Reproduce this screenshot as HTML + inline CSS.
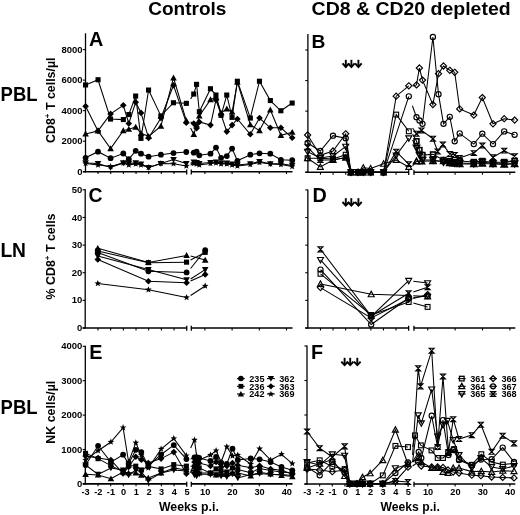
<!DOCTYPE html>
<html><head><meta charset="utf-8"><style>
html,body{margin:0;padding:0;background:#fff;}
body{width:520px;height:515px;overflow:hidden;font-family:"Liberation Sans",sans-serif;}
svg{display:block;filter:grayscale(1);}
</style></head><body>
<svg width="520" height="515" viewBox="0 0 520 515">
<rect width="520" height="515" fill="#fff"/>
<text x="148.20" y="14.90" font-family="Liberation Sans, sans-serif" font-weight="bold" font-size="19.20" textLength="78.2" lengthAdjust="spacingAndGlyphs">Controls</text>
<text x="311.60" y="14.90" font-family="Liberation Sans, sans-serif" font-weight="bold" font-size="19.20" textLength="199.0" lengthAdjust="spacingAndGlyphs">CD8 &amp; CD20 depleted</text>
<text x="0.60" y="100.80" font-family="Liberation Sans, sans-serif" font-weight="bold" font-size="20.20" textLength="37.0" lengthAdjust="spacingAndGlyphs">PBL</text>
<text x="0.40" y="256.90" font-family="Liberation Sans, sans-serif" font-weight="bold" font-size="19.70" textLength="25.6" lengthAdjust="spacingAndGlyphs">LN</text>
<text x="0.60" y="413.90" font-family="Liberation Sans, sans-serif" font-weight="bold" font-size="19.70" textLength="37.0" lengthAdjust="spacingAndGlyphs">PBL</text>
<text x="88.90" y="45.70" font-family="Liberation Sans, sans-serif" font-weight="bold" font-size="19.80">A</text>
<text x="311.60" y="47.70" font-family="Liberation Sans, sans-serif" font-weight="bold" font-size="19.20">B</text>
<text x="88.60" y="201.50" font-family="Liberation Sans, sans-serif" font-weight="bold" font-size="19.40">C</text>
<text x="312.60" y="202.20" font-family="Liberation Sans, sans-serif" font-weight="bold" font-size="19.80">D</text>
<text x="89.20" y="358.80" font-family="Liberation Sans, sans-serif" font-weight="bold" font-size="19.80">E</text>
<text x="310.90" y="359.20" font-family="Liberation Sans, sans-serif" font-weight="bold" font-size="19.80">F</text>
<text transform="translate(54.90,100.25) rotate(-90)" font-family="Liberation Sans, sans-serif" font-weight="bold" font-size="12.4" text-anchor="middle">CD8<tspan dy="-4.8" font-size="8">+</tspan><tspan dy="4.8"> T cells/µl</tspan></text>
<text transform="translate(54.90,256.50) rotate(-90)" font-family="Liberation Sans, sans-serif" font-weight="bold" font-size="12.4" text-anchor="middle">% CD8<tspan dy="-4.8" font-size="8">+</tspan><tspan dy="4.8"> T cells</tspan></text>
<text transform="translate(54.90,412.20) rotate(-90)" font-family="Liberation Sans, sans-serif" font-weight="bold" font-size="12.4" text-anchor="middle">NK cells/µl</text>
<line x1="85.50" y1="33.30" x2="85.50" y2="172.30" stroke="#000" stroke-width="1.3"/>
<line x1="82.90" y1="171.70" x2="85.50" y2="171.70" stroke="#000" stroke-width="1.1"/>
<text x="82.60" y="174.80" font-family="Liberation Sans, sans-serif" font-weight="bold" font-size="9.50" text-anchor="end">0</text>
<line x1="82.90" y1="141.17" x2="85.50" y2="141.17" stroke="#000" stroke-width="1.1"/>
<text x="82.60" y="144.27" font-family="Liberation Sans, sans-serif" font-weight="bold" font-size="9.50" text-anchor="end">2000</text>
<line x1="82.90" y1="110.65" x2="85.50" y2="110.65" stroke="#000" stroke-width="1.1"/>
<text x="82.60" y="113.75" font-family="Liberation Sans, sans-serif" font-weight="bold" font-size="9.50" text-anchor="end">4000</text>
<line x1="82.90" y1="80.12" x2="85.50" y2="80.12" stroke="#000" stroke-width="1.1"/>
<text x="82.60" y="83.22" font-family="Liberation Sans, sans-serif" font-weight="bold" font-size="9.50" text-anchor="end">6000</text>
<line x1="82.90" y1="49.60" x2="85.50" y2="49.60" stroke="#000" stroke-width="1.1"/>
<text x="82.60" y="52.70" font-family="Liberation Sans, sans-serif" font-weight="bold" font-size="9.50" text-anchor="end">8000</text>
<line x1="307.90" y1="33.90" x2="307.90" y2="172.90" stroke="#000" stroke-width="1.3"/>
<line x1="305.30" y1="172.30" x2="307.90" y2="172.30" stroke="#000" stroke-width="1.1"/>
<line x1="305.30" y1="141.73" x2="307.90" y2="141.73" stroke="#000" stroke-width="1.1"/>
<line x1="305.30" y1="111.15" x2="307.90" y2="111.15" stroke="#000" stroke-width="1.1"/>
<line x1="305.30" y1="80.58" x2="307.90" y2="80.58" stroke="#000" stroke-width="1.1"/>
<line x1="305.30" y1="50.00" x2="307.90" y2="50.00" stroke="#000" stroke-width="1.1"/>
<line x1="85.20" y1="189.30" x2="85.20" y2="328.60" stroke="#000" stroke-width="1.3"/>
<line x1="82.60" y1="328.00" x2="85.20" y2="328.00" stroke="#000" stroke-width="1.1"/>
<text x="82.30" y="331.10" font-family="Liberation Sans, sans-serif" font-weight="bold" font-size="9.50" text-anchor="end">0</text>
<line x1="82.60" y1="300.36" x2="85.20" y2="300.36" stroke="#000" stroke-width="1.1"/>
<text x="82.30" y="303.46" font-family="Liberation Sans, sans-serif" font-weight="bold" font-size="9.50" text-anchor="end">10</text>
<line x1="82.60" y1="272.72" x2="85.20" y2="272.72" stroke="#000" stroke-width="1.1"/>
<text x="82.30" y="275.82" font-family="Liberation Sans, sans-serif" font-weight="bold" font-size="9.50" text-anchor="end">20</text>
<line x1="82.60" y1="245.08" x2="85.20" y2="245.08" stroke="#000" stroke-width="1.1"/>
<text x="82.30" y="248.18" font-family="Liberation Sans, sans-serif" font-weight="bold" font-size="9.50" text-anchor="end">30</text>
<line x1="82.60" y1="217.44" x2="85.20" y2="217.44" stroke="#000" stroke-width="1.1"/>
<text x="82.30" y="220.54" font-family="Liberation Sans, sans-serif" font-weight="bold" font-size="9.50" text-anchor="end">40</text>
<line x1="82.60" y1="189.80" x2="85.20" y2="189.80" stroke="#000" stroke-width="1.1"/>
<text x="82.30" y="192.90" font-family="Liberation Sans, sans-serif" font-weight="bold" font-size="9.50" text-anchor="end">50</text>
<line x1="307.85" y1="189.40" x2="307.85" y2="328.60" stroke="#000" stroke-width="1.3"/>
<line x1="305.25" y1="328.00" x2="307.85" y2="328.00" stroke="#000" stroke-width="1.1"/>
<line x1="305.25" y1="300.38" x2="307.85" y2="300.38" stroke="#000" stroke-width="1.1"/>
<line x1="305.25" y1="272.76" x2="307.85" y2="272.76" stroke="#000" stroke-width="1.1"/>
<line x1="305.25" y1="245.14" x2="307.85" y2="245.14" stroke="#000" stroke-width="1.1"/>
<line x1="305.25" y1="217.52" x2="307.85" y2="217.52" stroke="#000" stroke-width="1.1"/>
<line x1="305.25" y1="189.90" x2="307.85" y2="189.90" stroke="#000" stroke-width="1.1"/>
<line x1="85.30" y1="345.80" x2="85.30" y2="484.50" stroke="#000" stroke-width="1.3"/>
<line x1="82.70" y1="483.90" x2="85.30" y2="483.90" stroke="#000" stroke-width="1.1"/>
<text x="82.40" y="487.00" font-family="Liberation Sans, sans-serif" font-weight="bold" font-size="9.50" text-anchor="end">0</text>
<line x1="82.70" y1="449.50" x2="85.30" y2="449.50" stroke="#000" stroke-width="1.1"/>
<text x="82.40" y="452.60" font-family="Liberation Sans, sans-serif" font-weight="bold" font-size="9.50" text-anchor="end">1000</text>
<line x1="82.70" y1="415.10" x2="85.30" y2="415.10" stroke="#000" stroke-width="1.1"/>
<text x="82.40" y="418.20" font-family="Liberation Sans, sans-serif" font-weight="bold" font-size="9.50" text-anchor="end">2000</text>
<line x1="82.70" y1="380.70" x2="85.30" y2="380.70" stroke="#000" stroke-width="1.1"/>
<text x="82.40" y="383.80" font-family="Liberation Sans, sans-serif" font-weight="bold" font-size="9.50" text-anchor="end">3000</text>
<line x1="82.70" y1="346.30" x2="85.30" y2="346.30" stroke="#000" stroke-width="1.1"/>
<text x="82.40" y="349.40" font-family="Liberation Sans, sans-serif" font-weight="bold" font-size="9.50" text-anchor="end">4000</text>
<line x1="307.00" y1="345.40" x2="307.00" y2="484.60" stroke="#000" stroke-width="1.3"/>
<line x1="304.40" y1="484.00" x2="307.00" y2="484.00" stroke="#000" stroke-width="1.1"/>
<line x1="304.40" y1="449.50" x2="307.00" y2="449.50" stroke="#000" stroke-width="1.1"/>
<line x1="304.40" y1="415.00" x2="307.00" y2="415.00" stroke="#000" stroke-width="1.1"/>
<line x1="304.40" y1="380.50" x2="307.00" y2="380.50" stroke="#000" stroke-width="1.1"/>
<line x1="304.40" y1="346.00" x2="307.00" y2="346.00" stroke="#000" stroke-width="1.1"/>
<line x1="82.90" y1="171.70" x2="186.98" y2="171.70" stroke="#000" stroke-width="1.6"/>
<line x1="191.00" y1="171.70" x2="292.50" y2="171.70" stroke="#000" stroke-width="1.6"/>
<line x1="186.68" y1="169.50" x2="186.68" y2="174.50" stroke="#000" stroke-width="1.3"/>
<line x1="191.30" y1="169.50" x2="191.30" y2="174.50" stroke="#000" stroke-width="1.3"/>
<line x1="98.06" y1="171.70" x2="98.06" y2="174.10" stroke="#000" stroke-width="1.1"/>
<line x1="110.72" y1="171.70" x2="110.72" y2="174.10" stroke="#000" stroke-width="1.1"/>
<line x1="123.38" y1="171.70" x2="123.38" y2="174.10" stroke="#000" stroke-width="1.1"/>
<line x1="136.04" y1="171.70" x2="136.04" y2="174.10" stroke="#000" stroke-width="1.1"/>
<line x1="148.70" y1="171.70" x2="148.70" y2="174.10" stroke="#000" stroke-width="1.1"/>
<line x1="161.36" y1="171.70" x2="161.36" y2="174.10" stroke="#000" stroke-width="1.1"/>
<line x1="174.02" y1="171.70" x2="174.02" y2="174.10" stroke="#000" stroke-width="1.1"/>
<line x1="204.90" y1="171.70" x2="204.90" y2="174.10" stroke="#000" stroke-width="1.1"/>
<line x1="232.10" y1="171.70" x2="232.10" y2="174.10" stroke="#000" stroke-width="1.1"/>
<line x1="259.30" y1="171.70" x2="259.30" y2="174.10" stroke="#000" stroke-width="1.1"/>
<line x1="286.50" y1="171.70" x2="286.50" y2="174.10" stroke="#000" stroke-width="1.1"/>
<line x1="305.30" y1="172.30" x2="409.00" y2="172.30" stroke="#000" stroke-width="1.6"/>
<line x1="413.70" y1="172.30" x2="515.30" y2="172.30" stroke="#000" stroke-width="1.6"/>
<line x1="408.70" y1="170.10" x2="408.70" y2="175.10" stroke="#000" stroke-width="1.3"/>
<line x1="414.00" y1="170.10" x2="414.00" y2="175.10" stroke="#000" stroke-width="1.3"/>
<line x1="320.50" y1="172.30" x2="320.50" y2="174.70" stroke="#000" stroke-width="1.1"/>
<line x1="333.10" y1="172.30" x2="333.10" y2="174.70" stroke="#000" stroke-width="1.1"/>
<line x1="345.70" y1="172.30" x2="345.70" y2="174.70" stroke="#000" stroke-width="1.1"/>
<line x1="358.30" y1="172.30" x2="358.30" y2="174.70" stroke="#000" stroke-width="1.1"/>
<line x1="370.90" y1="172.30" x2="370.90" y2="174.70" stroke="#000" stroke-width="1.1"/>
<line x1="383.50" y1="172.30" x2="383.50" y2="174.70" stroke="#000" stroke-width="1.1"/>
<line x1="396.10" y1="172.30" x2="396.10" y2="174.70" stroke="#000" stroke-width="1.1"/>
<line x1="427.70" y1="172.30" x2="427.70" y2="174.70" stroke="#000" stroke-width="1.1"/>
<line x1="455.10" y1="172.30" x2="455.10" y2="174.70" stroke="#000" stroke-width="1.1"/>
<line x1="482.50" y1="172.30" x2="482.50" y2="174.70" stroke="#000" stroke-width="1.1"/>
<line x1="509.90" y1="172.30" x2="509.90" y2="174.70" stroke="#000" stroke-width="1.1"/>
<line x1="82.60" y1="328.00" x2="187.04" y2="328.00" stroke="#000" stroke-width="1.6"/>
<line x1="191.00" y1="328.00" x2="292.50" y2="328.00" stroke="#000" stroke-width="1.6"/>
<line x1="186.74" y1="325.80" x2="186.74" y2="330.80" stroke="#000" stroke-width="1.3"/>
<line x1="191.30" y1="325.80" x2="191.30" y2="330.80" stroke="#000" stroke-width="1.3"/>
<line x1="97.98" y1="328.00" x2="97.98" y2="330.40" stroke="#000" stroke-width="1.1"/>
<line x1="110.66" y1="328.00" x2="110.66" y2="330.40" stroke="#000" stroke-width="1.1"/>
<line x1="123.34" y1="328.00" x2="123.34" y2="330.40" stroke="#000" stroke-width="1.1"/>
<line x1="136.02" y1="328.00" x2="136.02" y2="330.40" stroke="#000" stroke-width="1.1"/>
<line x1="148.70" y1="328.00" x2="148.70" y2="330.40" stroke="#000" stroke-width="1.1"/>
<line x1="161.38" y1="328.00" x2="161.38" y2="330.40" stroke="#000" stroke-width="1.1"/>
<line x1="174.06" y1="328.00" x2="174.06" y2="330.40" stroke="#000" stroke-width="1.1"/>
<line x1="204.90" y1="328.00" x2="204.90" y2="330.40" stroke="#000" stroke-width="1.1"/>
<line x1="232.10" y1="328.00" x2="232.10" y2="330.40" stroke="#000" stroke-width="1.1"/>
<line x1="259.30" y1="328.00" x2="259.30" y2="330.40" stroke="#000" stroke-width="1.1"/>
<line x1="286.50" y1="328.00" x2="286.50" y2="330.40" stroke="#000" stroke-width="1.1"/>
<line x1="305.25" y1="328.00" x2="408.95" y2="328.00" stroke="#000" stroke-width="1.6"/>
<line x1="413.70" y1="328.00" x2="515.30" y2="328.00" stroke="#000" stroke-width="1.6"/>
<line x1="408.65" y1="325.80" x2="408.65" y2="330.80" stroke="#000" stroke-width="1.3"/>
<line x1="414.00" y1="325.80" x2="414.00" y2="330.80" stroke="#000" stroke-width="1.3"/>
<line x1="320.45" y1="328.00" x2="320.45" y2="330.40" stroke="#000" stroke-width="1.1"/>
<line x1="333.05" y1="328.00" x2="333.05" y2="330.40" stroke="#000" stroke-width="1.1"/>
<line x1="345.65" y1="328.00" x2="345.65" y2="330.40" stroke="#000" stroke-width="1.1"/>
<line x1="358.25" y1="328.00" x2="358.25" y2="330.40" stroke="#000" stroke-width="1.1"/>
<line x1="370.85" y1="328.00" x2="370.85" y2="330.40" stroke="#000" stroke-width="1.1"/>
<line x1="383.45" y1="328.00" x2="383.45" y2="330.40" stroke="#000" stroke-width="1.1"/>
<line x1="396.05" y1="328.00" x2="396.05" y2="330.40" stroke="#000" stroke-width="1.1"/>
<line x1="427.70" y1="328.00" x2="427.70" y2="330.40" stroke="#000" stroke-width="1.1"/>
<line x1="455.10" y1="328.00" x2="455.10" y2="330.40" stroke="#000" stroke-width="1.1"/>
<line x1="482.50" y1="328.00" x2="482.50" y2="330.40" stroke="#000" stroke-width="1.1"/>
<line x1="509.90" y1="328.00" x2="509.90" y2="330.40" stroke="#000" stroke-width="1.1"/>
<line x1="82.70" y1="483.90" x2="187.04" y2="483.90" stroke="#000" stroke-width="1.6"/>
<line x1="191.00" y1="483.90" x2="292.50" y2="483.90" stroke="#000" stroke-width="1.6"/>
<line x1="186.74" y1="481.70" x2="186.74" y2="486.70" stroke="#000" stroke-width="1.3"/>
<line x1="191.30" y1="481.70" x2="191.30" y2="486.70" stroke="#000" stroke-width="1.3"/>
<line x1="97.98" y1="483.90" x2="97.98" y2="486.30" stroke="#000" stroke-width="1.1"/>
<line x1="110.66" y1="483.90" x2="110.66" y2="486.30" stroke="#000" stroke-width="1.1"/>
<line x1="123.34" y1="483.90" x2="123.34" y2="486.30" stroke="#000" stroke-width="1.1"/>
<line x1="136.02" y1="483.90" x2="136.02" y2="486.30" stroke="#000" stroke-width="1.1"/>
<line x1="148.70" y1="483.90" x2="148.70" y2="486.30" stroke="#000" stroke-width="1.1"/>
<line x1="161.38" y1="483.90" x2="161.38" y2="486.30" stroke="#000" stroke-width="1.1"/>
<line x1="174.06" y1="483.90" x2="174.06" y2="486.30" stroke="#000" stroke-width="1.1"/>
<line x1="204.90" y1="483.90" x2="204.90" y2="486.30" stroke="#000" stroke-width="1.1"/>
<line x1="232.10" y1="483.90" x2="232.10" y2="486.30" stroke="#000" stroke-width="1.1"/>
<line x1="259.30" y1="483.90" x2="259.30" y2="486.30" stroke="#000" stroke-width="1.1"/>
<line x1="286.50" y1="483.90" x2="286.50" y2="486.30" stroke="#000" stroke-width="1.1"/>
<text x="85.60" y="494.80" font-family="Liberation Sans, sans-serif" font-weight="bold" font-size="9.20" text-anchor="middle">-3</text>
<text x="98.28" y="494.80" font-family="Liberation Sans, sans-serif" font-weight="bold" font-size="9.20" text-anchor="middle">-2</text>
<text x="110.96" y="494.80" font-family="Liberation Sans, sans-serif" font-weight="bold" font-size="9.20" text-anchor="middle">-1</text>
<text x="123.64" y="494.80" font-family="Liberation Sans, sans-serif" font-weight="bold" font-size="9.20" text-anchor="middle">0</text>
<text x="136.32" y="494.80" font-family="Liberation Sans, sans-serif" font-weight="bold" font-size="9.20" text-anchor="middle">1</text>
<text x="149.00" y="494.80" font-family="Liberation Sans, sans-serif" font-weight="bold" font-size="9.20" text-anchor="middle">2</text>
<text x="161.68" y="494.80" font-family="Liberation Sans, sans-serif" font-weight="bold" font-size="9.20" text-anchor="middle">3</text>
<text x="174.36" y="494.80" font-family="Liberation Sans, sans-serif" font-weight="bold" font-size="9.20" text-anchor="middle">4</text>
<text x="187.04" y="494.80" font-family="Liberation Sans, sans-serif" font-weight="bold" font-size="9.20" text-anchor="middle">5</text>
<text x="205.20" y="494.80" font-family="Liberation Sans, sans-serif" font-weight="bold" font-size="9.20" text-anchor="middle">10</text>
<text x="232.40" y="494.80" font-family="Liberation Sans, sans-serif" font-weight="bold" font-size="9.20" text-anchor="middle">20</text>
<text x="259.60" y="494.80" font-family="Liberation Sans, sans-serif" font-weight="bold" font-size="9.20" text-anchor="middle">30</text>
<text x="286.80" y="494.80" font-family="Liberation Sans, sans-serif" font-weight="bold" font-size="9.20" text-anchor="middle">40</text>
<line x1="304.40" y1="484.00" x2="408.42" y2="484.00" stroke="#000" stroke-width="1.6"/>
<line x1="413.70" y1="484.00" x2="515.30" y2="484.00" stroke="#000" stroke-width="1.6"/>
<line x1="408.12" y1="481.80" x2="408.12" y2="486.80" stroke="#000" stroke-width="1.3"/>
<line x1="414.00" y1="481.80" x2="414.00" y2="486.80" stroke="#000" stroke-width="1.3"/>
<line x1="319.64" y1="484.00" x2="319.64" y2="486.40" stroke="#000" stroke-width="1.1"/>
<line x1="332.28" y1="484.00" x2="332.28" y2="486.40" stroke="#000" stroke-width="1.1"/>
<line x1="344.92" y1="484.00" x2="344.92" y2="486.40" stroke="#000" stroke-width="1.1"/>
<line x1="357.56" y1="484.00" x2="357.56" y2="486.40" stroke="#000" stroke-width="1.1"/>
<line x1="370.20" y1="484.00" x2="370.20" y2="486.40" stroke="#000" stroke-width="1.1"/>
<line x1="382.84" y1="484.00" x2="382.84" y2="486.40" stroke="#000" stroke-width="1.1"/>
<line x1="395.48" y1="484.00" x2="395.48" y2="486.40" stroke="#000" stroke-width="1.1"/>
<line x1="427.70" y1="484.00" x2="427.70" y2="486.40" stroke="#000" stroke-width="1.1"/>
<line x1="455.10" y1="484.00" x2="455.10" y2="486.40" stroke="#000" stroke-width="1.1"/>
<line x1="482.50" y1="484.00" x2="482.50" y2="486.40" stroke="#000" stroke-width="1.1"/>
<line x1="509.90" y1="484.00" x2="509.90" y2="486.40" stroke="#000" stroke-width="1.1"/>
<text x="307.30" y="494.90" font-family="Liberation Sans, sans-serif" font-weight="bold" font-size="9.20" text-anchor="middle">-3</text>
<text x="319.94" y="494.90" font-family="Liberation Sans, sans-serif" font-weight="bold" font-size="9.20" text-anchor="middle">-2</text>
<text x="332.58" y="494.90" font-family="Liberation Sans, sans-serif" font-weight="bold" font-size="9.20" text-anchor="middle">-1</text>
<text x="345.22" y="494.90" font-family="Liberation Sans, sans-serif" font-weight="bold" font-size="9.20" text-anchor="middle">0</text>
<text x="357.86" y="494.90" font-family="Liberation Sans, sans-serif" font-weight="bold" font-size="9.20" text-anchor="middle">1</text>
<text x="370.50" y="494.90" font-family="Liberation Sans, sans-serif" font-weight="bold" font-size="9.20" text-anchor="middle">2</text>
<text x="383.14" y="494.90" font-family="Liberation Sans, sans-serif" font-weight="bold" font-size="9.20" text-anchor="middle">3</text>
<text x="395.78" y="494.90" font-family="Liberation Sans, sans-serif" font-weight="bold" font-size="9.20" text-anchor="middle">4</text>
<text x="408.42" y="494.90" font-family="Liberation Sans, sans-serif" font-weight="bold" font-size="9.20" text-anchor="middle">5</text>
<text x="428.00" y="494.90" font-family="Liberation Sans, sans-serif" font-weight="bold" font-size="9.20" text-anchor="middle">10</text>
<text x="455.40" y="494.90" font-family="Liberation Sans, sans-serif" font-weight="bold" font-size="9.20" text-anchor="middle">20</text>
<text x="482.80" y="494.90" font-family="Liberation Sans, sans-serif" font-weight="bold" font-size="9.20" text-anchor="middle">30</text>
<text x="510.20" y="494.90" font-family="Liberation Sans, sans-serif" font-weight="bold" font-size="9.20" text-anchor="middle">40</text>
<text x="159.00" y="511.20" font-family="Liberation Sans, sans-serif" font-weight="bold" font-size="12.00" textLength="59.8" lengthAdjust="spacingAndGlyphs">Weeks p.i.</text>
<text x="380.60" y="511.20" font-family="Liberation Sans, sans-serif" font-weight="bold" font-size="12.00" textLength="59.2" lengthAdjust="spacingAndGlyphs">Weeks p.i.</text>
<path d="M345.8,59.8 L345.8,66.5" stroke="#000" stroke-width="1.9"/>
<path d="M342.5,63.4 L345.8,67.0 L349.1,63.4" fill="none" stroke="#000" stroke-width="1.9" stroke-linejoin="miter"/>
<path d="M351.4,59.8 L351.4,66.5" stroke="#000" stroke-width="1.9"/>
<path d="M348.1,63.4 L351.4,67.0 L354.7,63.4" fill="none" stroke="#000" stroke-width="1.9" stroke-linejoin="miter"/>
<path d="M358.4,59.8 L358.4,66.5" stroke="#000" stroke-width="1.9"/>
<path d="M355.1,63.4 L358.4,67.0 L361.7,63.4" fill="none" stroke="#000" stroke-width="1.9" stroke-linejoin="miter"/>
<path d="M345.8,198.2 L345.8,205.1" stroke="#000" stroke-width="1.9"/>
<path d="M342.5,202.0 L345.8,205.6 L349.1,202.0" fill="none" stroke="#000" stroke-width="1.9" stroke-linejoin="miter"/>
<path d="M351.3,198.2 L351.3,205.1" stroke="#000" stroke-width="1.9"/>
<path d="M348.0,202.0 L351.3,205.6 L354.6,202.0" fill="none" stroke="#000" stroke-width="1.9" stroke-linejoin="miter"/>
<path d="M358.4,198.2 L358.4,205.1" stroke="#000" stroke-width="1.9"/>
<path d="M355.1,202.0 L358.4,205.6 L361.7,202.0" fill="none" stroke="#000" stroke-width="1.9" stroke-linejoin="miter"/>
<path d="M344.6,357.8 L344.6,364.7" stroke="#000" stroke-width="1.9"/>
<path d="M341.3,361.6 L344.6,365.2 L347.9,361.6" fill="none" stroke="#000" stroke-width="1.9" stroke-linejoin="miter"/>
<path d="M350.2,357.8 L350.2,364.7" stroke="#000" stroke-width="1.9"/>
<path d="M346.9,361.6 L350.2,365.2 L353.5,361.6" fill="none" stroke="#000" stroke-width="1.9" stroke-linejoin="miter"/>
<path d="M357.3,357.8 L357.3,364.7" stroke="#000" stroke-width="1.9"/>
<path d="M354.0,361.6 L357.3,365.2 L360.6,361.6" fill="none" stroke="#000" stroke-width="1.9" stroke-linejoin="miter"/>
<path d="M85.6,84.9 L98.0,79.8 L110.6,119.0 L123.3,119.6 L128.8,114.5 L135.7,96.1 L141.0,138.4 L148.6,90.0 L160.9,115.9 L173.5,102.7 L186.3,103.3" fill="none" stroke="#000" stroke-width="1.05"/>
<rect x="83.0" y="82.4" width="5.1" height="5.1" fill="#000"/>
<rect x="95.5" y="77.2" width="5.1" height="5.1" fill="#000"/>
<rect x="108.0" y="116.5" width="5.1" height="5.1" fill="#000"/>
<rect x="120.8" y="117.0" width="5.1" height="5.1" fill="#000"/>
<rect x="126.3" y="112.0" width="5.1" height="5.1" fill="#000"/>
<rect x="133.1" y="93.5" width="5.1" height="5.1" fill="#000"/>
<rect x="138.4" y="135.8" width="5.1" height="5.1" fill="#000"/>
<rect x="146.0" y="87.5" width="5.1" height="5.1" fill="#000"/>
<rect x="158.3" y="113.4" width="5.1" height="5.1" fill="#000"/>
<rect x="170.9" y="100.2" width="5.1" height="5.1" fill="#000"/>
<rect x="183.8" y="100.8" width="5.1" height="5.1" fill="#000"/>
<path d="M190.6,99.0 L193.8,94.1 L196.6,84.3 L199.3,111.8 L210.5,88.8 L216.0,95.1 L221.1,115.3 L226.8,95.1 L232.1,117.3 L237.4,81.2 L250.3,118.0 L259.5,81.2 L270.3,100.6 L280.9,110.8 L292.2,103.0" fill="none" stroke="#000" stroke-width="1.05"/>
<rect x="191.2" y="91.5" width="5.1" height="5.1" fill="#000"/>
<rect x="194.0" y="81.8" width="5.1" height="5.1" fill="#000"/>
<rect x="196.8" y="109.2" width="5.1" height="5.1" fill="#000"/>
<rect x="207.9" y="86.2" width="5.1" height="5.1" fill="#000"/>
<rect x="213.4" y="92.5" width="5.1" height="5.1" fill="#000"/>
<rect x="218.5" y="112.8" width="5.1" height="5.1" fill="#000"/>
<rect x="224.2" y="92.5" width="5.1" height="5.1" fill="#000"/>
<rect x="229.5" y="114.8" width="5.1" height="5.1" fill="#000"/>
<rect x="234.8" y="78.7" width="5.1" height="5.1" fill="#000"/>
<rect x="247.8" y="115.5" width="5.1" height="5.1" fill="#000"/>
<rect x="256.9" y="78.7" width="5.1" height="5.1" fill="#000"/>
<rect x="267.8" y="98.0" width="5.1" height="5.1" fill="#000"/>
<rect x="278.3" y="108.2" width="5.1" height="5.1" fill="#000"/>
<rect x="289.6" y="100.5" width="5.1" height="5.1" fill="#000"/>
<path d="M85.6,106.3 L98.0,130.9 L110.6,113.9 L123.3,105.3 L128.8,123.5 L135.7,102.2 L141.0,112.9 L148.6,138.0 L160.9,118.0 L173.5,85.3 L186.3,122.7" fill="none" stroke="#000" stroke-width="1.05"/>
<polygon points="85.6,103.0 88.9,106.3 85.6,109.6 82.3,106.3" fill="#000"/>
<polygon points="98.0,127.6 101.3,130.9 98.0,134.2 94.7,130.9" fill="#000"/>
<polygon points="110.6,110.6 113.9,113.9 110.6,117.2 107.3,113.9" fill="#000"/>
<polygon points="123.3,102.0 126.6,105.3 123.3,108.6 120.0,105.3" fill="#000"/>
<polygon points="128.8,120.2 132.1,123.5 128.8,126.8 125.5,123.5" fill="#000"/>
<polygon points="135.7,98.9 139.0,102.2 135.7,105.5 132.4,102.2" fill="#000"/>
<polygon points="141.0,109.6 144.3,112.9 141.0,116.2 137.7,112.9" fill="#000"/>
<polygon points="148.6,134.7 151.9,138.0 148.6,141.3 145.3,138.0" fill="#000"/>
<polygon points="160.9,114.7 164.2,118.0 160.9,121.3 157.6,118.0" fill="#000"/>
<polygon points="173.5,82.0 176.8,85.3 173.5,88.6 170.2,85.3" fill="#000"/>
<polygon points="186.3,119.4 189.6,122.7 186.3,126.0 183.0,122.7" fill="#000"/>
<path d="M190.6,122.0 L193.8,123.5 L196.6,128.2 L199.3,122.0 L210.5,125.1 L216.0,100.0 L221.1,114.5 L226.8,131.6 L232.1,125.1 L237.4,119.0 L250.3,134.3 L259.5,118.0 L270.3,127.8 L280.9,127.8 L292.2,137.8" fill="none" stroke="#000" stroke-width="1.05"/>
<polygon points="193.8,120.2 197.1,123.5 193.8,126.8 190.5,123.5" fill="#000"/>
<polygon points="196.6,124.9 199.9,128.2 196.6,131.5 193.3,128.2" fill="#000"/>
<polygon points="199.3,118.7 202.6,122.0 199.3,125.3 196.0,122.0" fill="#000"/>
<polygon points="210.5,121.8 213.8,125.1 210.5,128.4 207.2,125.1" fill="#000"/>
<polygon points="216.0,96.7 219.3,100.0 216.0,103.3 212.7,100.0" fill="#000"/>
<polygon points="221.1,111.2 224.4,114.5 221.1,117.8 217.8,114.5" fill="#000"/>
<polygon points="226.8,128.3 230.1,131.6 226.8,134.9 223.5,131.6" fill="#000"/>
<polygon points="232.1,121.8 235.4,125.1 232.1,128.4 228.8,125.1" fill="#000"/>
<polygon points="237.4,115.7 240.7,119.0 237.4,122.3 234.1,119.0" fill="#000"/>
<polygon points="250.3,131.0 253.6,134.3 250.3,137.6 247.0,134.3" fill="#000"/>
<polygon points="259.5,114.7 262.8,118.0 259.5,121.3 256.2,118.0" fill="#000"/>
<polygon points="270.3,124.5 273.6,127.8 270.3,131.1 267.0,127.8" fill="#000"/>
<polygon points="280.9,124.5 284.2,127.8 280.9,131.1 277.6,127.8" fill="#000"/>
<polygon points="292.2,134.5 295.5,137.8 292.2,141.1 288.9,137.8" fill="#000"/>
<path d="M85.6,133.9 L98.0,130.9 L110.6,148.6 L123.3,130.6 L128.8,129.2 L135.7,127.1 L141.0,133.3 L148.6,136.3 L160.9,126.1 L173.5,77.8 L186.3,120.6" fill="none" stroke="#000" stroke-width="1.05"/>
<polygon points="85.6,130.6 82.3,136.5 88.9,136.5" fill="#000"/>
<polygon points="98.0,127.6 94.7,133.5 101.3,133.5" fill="#000"/>
<polygon points="110.6,145.3 107.3,151.2 113.9,151.2" fill="#000"/>
<polygon points="123.3,127.3 120.0,133.2 126.6,133.2" fill="#000"/>
<polygon points="128.8,125.9 125.5,131.8 132.1,131.8" fill="#000"/>
<polygon points="135.7,123.8 132.4,129.7 139.0,129.7" fill="#000"/>
<polygon points="141.0,130.0 137.7,135.9 144.3,135.9" fill="#000"/>
<polygon points="148.6,133.0 145.3,138.9 151.9,138.9" fill="#000"/>
<polygon points="160.9,122.8 157.6,128.7 164.2,128.7" fill="#000"/>
<polygon points="173.5,74.5 170.2,80.4 176.8,80.4" fill="#000"/>
<polygon points="186.3,117.3 183.0,123.2 189.6,123.2" fill="#000"/>
<path d="M190.6,128.0 L193.8,134.3 L196.6,125.0 L199.3,115.9 L210.5,99.6 L216.0,97.0 L221.1,113.0 L226.8,108.8 L232.1,112.0 L237.4,82.2 L250.3,124.7 L259.5,130.6 L270.3,109.8 L280.9,135.3 L292.2,132.2" fill="none" stroke="#000" stroke-width="1.05"/>
<polygon points="193.8,131.0 190.5,136.9 197.1,136.9" fill="#000"/>
<polygon points="196.6,121.7 193.3,127.6 199.9,127.6" fill="#000"/>
<polygon points="199.3,112.6 196.0,118.5 202.6,118.5" fill="#000"/>
<polygon points="210.5,96.3 207.2,102.2 213.8,102.2" fill="#000"/>
<polygon points="216.0,93.7 212.7,99.6 219.3,99.6" fill="#000"/>
<polygon points="221.1,109.7 217.8,115.6 224.4,115.6" fill="#000"/>
<polygon points="226.8,105.5 223.5,111.4 230.1,111.4" fill="#000"/>
<polygon points="232.1,108.7 228.8,114.6 235.4,114.6" fill="#000"/>
<polygon points="237.4,78.9 234.1,84.8 240.7,84.8" fill="#000"/>
<polygon points="250.3,121.4 247.0,127.3 253.6,127.3" fill="#000"/>
<polygon points="259.5,127.3 256.2,133.2 262.8,133.2" fill="#000"/>
<polygon points="270.3,106.5 267.0,112.4 273.6,112.4" fill="#000"/>
<polygon points="280.9,132.0 277.6,137.9 284.2,137.9" fill="#000"/>
<polygon points="292.2,128.9 288.9,134.8 295.5,134.8" fill="#000"/>
<path d="M85.6,157.8 L98.0,151.7 L110.6,158.2 L123.3,153.5 L128.8,159.2 L135.7,150.8 L141.0,153.7 L148.6,156.7 L160.9,154.7 L173.5,153.1 L186.3,152.0" fill="none" stroke="#000" stroke-width="1.05"/>
<circle cx="85.6" cy="157.8" r="2.90" fill="#000"/>
<circle cx="98.0" cy="151.7" r="2.90" fill="#000"/>
<circle cx="110.6" cy="158.2" r="2.90" fill="#000"/>
<circle cx="123.3" cy="153.5" r="2.90" fill="#000"/>
<circle cx="128.8" cy="159.2" r="2.90" fill="#000"/>
<circle cx="135.7" cy="150.8" r="2.90" fill="#000"/>
<circle cx="141.0" cy="153.7" r="2.90" fill="#000"/>
<circle cx="148.6" cy="156.7" r="2.90" fill="#000"/>
<circle cx="160.9" cy="154.7" r="2.90" fill="#000"/>
<circle cx="173.5" cy="153.1" r="2.90" fill="#000"/>
<circle cx="186.3" cy="152.0" r="2.90" fill="#000"/>
<path d="M190.6,152.5 L193.8,152.7 L196.6,151.6 L199.3,155.3 L210.5,153.7 L216.0,147.6 L221.1,157.8 L226.8,156.1 L232.1,148.6 L237.4,160.8 L250.3,154.7 L259.5,153.3 L270.3,153.7 L280.9,159.8 L292.2,160.2" fill="none" stroke="#000" stroke-width="1.05"/>
<circle cx="193.8" cy="152.7" r="2.90" fill="#000"/>
<circle cx="196.6" cy="151.6" r="2.90" fill="#000"/>
<circle cx="199.3" cy="155.3" r="2.90" fill="#000"/>
<circle cx="210.5" cy="153.7" r="2.90" fill="#000"/>
<circle cx="216.0" cy="147.6" r="2.90" fill="#000"/>
<circle cx="221.1" cy="157.8" r="2.90" fill="#000"/>
<circle cx="226.8" cy="156.1" r="2.90" fill="#000"/>
<circle cx="232.1" cy="148.6" r="2.90" fill="#000"/>
<circle cx="237.4" cy="160.8" r="2.90" fill="#000"/>
<circle cx="250.3" cy="154.7" r="2.90" fill="#000"/>
<circle cx="259.5" cy="153.3" r="2.90" fill="#000"/>
<circle cx="270.3" cy="153.7" r="2.90" fill="#000"/>
<circle cx="280.9" cy="159.8" r="2.90" fill="#000"/>
<circle cx="292.2" cy="160.2" r="2.90" fill="#000"/>
<path d="M85.6,162.9 L98.0,163.5 L110.6,167.5 L123.3,162.9 L128.8,163.5 L135.7,162.9 L141.0,164.0 L148.6,167.5 L160.9,163.5 L173.5,159.5 L186.3,163.5" fill="none" stroke="#000" stroke-width="1.05"/>
<polygon points="85.6,166.2 82.3,160.3 88.9,160.3" fill="#000"/>
<polygon points="98.0,166.8 94.7,160.9 101.3,160.9" fill="#000"/>
<polygon points="110.6,170.8 107.3,164.9 113.9,164.9" fill="#000"/>
<polygon points="123.3,166.2 120.0,160.3 126.6,160.3" fill="#000"/>
<polygon points="128.8,166.8 125.5,160.9 132.1,160.9" fill="#000"/>
<polygon points="135.7,166.2 132.4,160.3 139.0,160.3" fill="#000"/>
<polygon points="141.0,167.3 137.7,161.4 144.3,161.4" fill="#000"/>
<polygon points="148.6,170.8 145.3,164.9 151.9,164.9" fill="#000"/>
<polygon points="160.9,166.8 157.6,160.9 164.2,160.9" fill="#000"/>
<polygon points="173.5,162.8 170.2,156.9 176.8,156.9" fill="#000"/>
<polygon points="186.3,166.8 183.0,160.9 189.6,160.9" fill="#000"/>
<path d="M190.6,163.5 L193.8,162.0 L196.6,162.5 L199.3,163.5 L210.5,162.5 L216.0,162.0 L221.1,163.0 L226.8,163.0 L232.1,164.0 L237.4,165.0 L250.3,163.8 L259.5,161.5 L270.3,163.8 L280.9,163.8 L292.2,165.4" fill="none" stroke="#000" stroke-width="1.05"/>
<polygon points="193.8,165.3 190.5,159.4 197.1,159.4" fill="#000"/>
<polygon points="196.6,165.8 193.3,159.9 199.9,159.9" fill="#000"/>
<polygon points="199.3,166.8 196.0,160.9 202.6,160.9" fill="#000"/>
<polygon points="210.5,165.8 207.2,159.9 213.8,159.9" fill="#000"/>
<polygon points="216.0,165.3 212.7,159.4 219.3,159.4" fill="#000"/>
<polygon points="221.1,166.3 217.8,160.4 224.4,160.4" fill="#000"/>
<polygon points="226.8,166.3 223.5,160.4 230.1,160.4" fill="#000"/>
<polygon points="232.1,167.3 228.8,161.4 235.4,161.4" fill="#000"/>
<polygon points="237.4,168.3 234.1,162.4 240.7,162.4" fill="#000"/>
<polygon points="250.3,167.1 247.0,161.2 253.6,161.2" fill="#000"/>
<polygon points="259.5,164.8 256.2,158.9 262.8,158.9" fill="#000"/>
<polygon points="270.3,167.1 267.0,161.2 273.6,161.2" fill="#000"/>
<polygon points="280.9,167.1 277.6,161.2 284.2,161.2" fill="#000"/>
<polygon points="292.2,168.7 288.9,162.8 295.5,162.8" fill="#000"/>
<path d="M85.6,163.5 L98.0,165.0 L110.6,166.5 L123.3,162.9 L128.8,165.0 L135.7,164.0 L141.0,165.0 L148.6,167.5 L160.9,163.5 L173.5,163.8 L186.3,166.0" fill="none" stroke="#000" stroke-width="1.05"/>
<polygon points="85.6,160.0 86.5,162.3 88.9,162.4 87.0,164.0 87.7,166.3 85.6,165.0 83.5,166.3 84.2,164.0 82.3,162.4 84.7,162.3" fill="#000"/>
<polygon points="98.0,161.5 98.9,163.8 101.3,163.9 99.4,165.5 100.1,167.8 98.0,166.5 95.9,167.8 96.6,165.5 94.7,163.9 97.1,163.8" fill="#000"/>
<polygon points="110.6,163.0 111.5,165.3 113.9,165.4 112.0,167.0 112.7,169.3 110.6,168.0 108.5,169.3 109.2,167.0 107.3,165.4 109.7,165.3" fill="#000"/>
<polygon points="123.3,159.4 124.2,161.7 126.6,161.8 124.7,163.4 125.4,165.7 123.3,164.4 121.2,165.7 121.9,163.4 120.0,161.8 122.4,161.7" fill="#000"/>
<polygon points="128.8,161.5 129.7,163.8 132.1,163.9 130.2,165.5 130.9,167.8 128.8,166.5 126.7,167.8 127.4,165.5 125.5,163.9 127.9,163.8" fill="#000"/>
<polygon points="135.7,160.5 136.6,162.8 139.0,162.9 137.1,164.5 137.8,166.8 135.7,165.5 133.6,166.8 134.3,164.5 132.4,162.9 134.8,162.8" fill="#000"/>
<polygon points="141.0,161.5 141.9,163.8 144.3,163.9 142.4,165.5 143.1,167.8 141.0,166.5 138.9,167.8 139.6,165.5 137.7,163.9 140.1,163.8" fill="#000"/>
<polygon points="148.6,164.0 149.5,166.3 151.9,166.4 150.0,168.0 150.7,170.3 148.6,169.0 146.5,170.3 147.2,168.0 145.3,166.4 147.7,166.3" fill="#000"/>
<polygon points="160.9,160.0 161.8,162.3 164.2,162.4 162.3,164.0 163.0,166.3 160.9,165.0 158.8,166.3 159.5,164.0 157.6,162.4 160.0,162.3" fill="#000"/>
<polygon points="173.5,160.3 174.4,162.6 176.8,162.7 174.9,164.3 175.6,166.6 173.5,165.3 171.4,166.6 172.1,164.3 170.2,162.7 172.6,162.6" fill="#000"/>
<polygon points="186.3,162.5 187.2,164.8 189.6,164.9 187.7,166.5 188.4,168.8 186.3,167.5 184.2,168.8 184.9,166.5 183.0,164.9 185.4,164.8" fill="#000"/>
<path d="M190.6,165.0 L193.8,163.5 L196.6,164.0 L199.3,165.0 L210.5,163.5 L216.0,163.0 L221.1,164.0 L226.8,164.0 L232.1,165.0 L237.4,166.0 L250.3,164.5 L259.5,162.5 L270.3,164.0 L280.9,164.5 L292.2,166.5" fill="none" stroke="#000" stroke-width="1.05"/>
<polygon points="193.8,160.0 194.7,162.3 197.1,162.4 195.2,164.0 195.9,166.3 193.8,165.0 191.7,166.3 192.4,164.0 190.5,162.4 192.9,162.3" fill="#000"/>
<polygon points="196.6,160.5 197.5,162.8 199.9,162.9 198.0,164.5 198.7,166.8 196.6,165.5 194.5,166.8 195.2,164.5 193.3,162.9 195.7,162.8" fill="#000"/>
<polygon points="199.3,161.5 200.2,163.8 202.6,163.9 200.7,165.5 201.4,167.8 199.3,166.5 197.2,167.8 197.9,165.5 196.0,163.9 198.4,163.8" fill="#000"/>
<polygon points="210.5,160.0 211.4,162.3 213.8,162.4 211.9,164.0 212.6,166.3 210.5,165.0 208.4,166.3 209.1,164.0 207.2,162.4 209.6,162.3" fill="#000"/>
<polygon points="216.0,159.5 216.9,161.8 219.3,161.9 217.4,163.5 218.1,165.8 216.0,164.5 213.9,165.8 214.6,163.5 212.7,161.9 215.1,161.8" fill="#000"/>
<polygon points="221.1,160.5 222.0,162.8 224.4,162.9 222.5,164.5 223.2,166.8 221.1,165.5 219.0,166.8 219.7,164.5 217.8,162.9 220.2,162.8" fill="#000"/>
<polygon points="226.8,160.5 227.7,162.8 230.1,162.9 228.2,164.5 228.9,166.8 226.8,165.5 224.7,166.8 225.4,164.5 223.5,162.9 225.9,162.8" fill="#000"/>
<polygon points="232.1,161.5 233.0,163.8 235.4,163.9 233.5,165.5 234.2,167.8 232.1,166.5 230.0,167.8 230.7,165.5 228.8,163.9 231.2,163.8" fill="#000"/>
<polygon points="237.4,162.5 238.3,164.8 240.7,164.9 238.8,166.5 239.5,168.8 237.4,167.5 235.3,168.8 236.0,166.5 234.1,164.9 236.5,164.8" fill="#000"/>
<polygon points="250.3,161.0 251.2,163.3 253.6,163.4 251.7,165.0 252.4,167.3 250.3,166.0 248.2,167.3 248.9,165.0 247.0,163.4 249.4,163.3" fill="#000"/>
<polygon points="259.5,159.0 260.4,161.3 262.8,161.4 260.9,163.0 261.6,165.3 259.5,164.0 257.4,165.3 258.1,163.0 256.2,161.4 258.6,161.3" fill="#000"/>
<polygon points="270.3,160.5 271.2,162.8 273.6,162.9 271.7,164.5 272.4,166.8 270.3,165.5 268.2,166.8 268.9,164.5 267.0,162.9 269.4,162.8" fill="#000"/>
<polygon points="280.9,161.0 281.8,163.3 284.2,163.4 282.3,165.0 283.0,167.3 280.9,166.0 278.8,167.3 279.5,165.0 277.6,163.4 280.0,163.3" fill="#000"/>
<polygon points="292.2,163.0 293.1,165.3 295.5,165.4 293.6,167.0 294.3,169.3 292.2,168.0 290.1,169.3 290.8,167.0 288.9,165.4 291.3,165.3" fill="#000"/>
<path d="M307.6,135.0 L320.3,155.3 L333.0,151.0 L345.7,133.8 L350.9,172.3 L358.0,172.3 L363.3,172.3 L370.6,172.3 L383.6,172.3 L396.2,96.2 L408.8,85.8" fill="none" stroke="#000" stroke-width="1.05"/>
<polygon points="307.6,131.9 310.7,135.0 307.6,138.1 304.5,135.0" fill="none" stroke="#000" stroke-width="1.15"/>
<polygon points="320.3,152.2 323.4,155.3 320.3,158.4 317.2,155.3" fill="none" stroke="#000" stroke-width="1.15"/>
<polygon points="333.0,147.9 336.1,151.0 333.0,154.1 329.9,151.0" fill="none" stroke="#000" stroke-width="1.15"/>
<polygon points="345.7,130.7 348.8,133.8 345.7,136.9 342.6,133.8" fill="none" stroke="#000" stroke-width="1.15"/>
<polygon points="350.9,169.2 354.0,172.3 350.9,175.4 347.8,172.3" fill="none" stroke="#000" stroke-width="1.15"/>
<polygon points="358.0,169.2 361.1,172.3 358.0,175.4 354.9,172.3" fill="none" stroke="#000" stroke-width="1.15"/>
<polygon points="363.3,169.2 366.4,172.3 363.3,175.4 360.2,172.3" fill="none" stroke="#000" stroke-width="1.15"/>
<polygon points="370.6,169.2 373.7,172.3 370.6,175.4 367.5,172.3" fill="none" stroke="#000" stroke-width="1.15"/>
<polygon points="383.6,169.2 386.7,172.3 383.6,175.4 380.5,172.3" fill="none" stroke="#000" stroke-width="1.15"/>
<polygon points="396.2,93.1 399.3,96.2 396.2,99.3 393.1,96.2" fill="none" stroke="#000" stroke-width="1.15"/>
<polygon points="408.8,82.7 411.9,85.8 408.8,88.9 405.7,85.8" fill="none" stroke="#000" stroke-width="1.15"/>
<path d="M307.6,143.0 L320.3,151.0 L333.0,135.7 L345.7,138.2 L350.9,172.3 L358.0,172.3 L363.3,172.3 L370.6,172.3 L383.6,172.3 L408.8,96.3" fill="none" stroke="#000" stroke-width="1.05"/>
<circle cx="307.6" cy="143.0" r="2.60" fill="none" stroke="#000" stroke-width="1.15"/>
<circle cx="320.3" cy="151.0" r="2.60" fill="none" stroke="#000" stroke-width="1.15"/>
<circle cx="333.0" cy="135.7" r="2.60" fill="none" stroke="#000" stroke-width="1.15"/>
<circle cx="345.7" cy="138.2" r="2.60" fill="none" stroke="#000" stroke-width="1.15"/>
<circle cx="350.9" cy="172.3" r="2.60" fill="none" stroke="#000" stroke-width="1.15"/>
<circle cx="358.0" cy="172.3" r="2.60" fill="none" stroke="#000" stroke-width="1.15"/>
<circle cx="363.3" cy="172.3" r="2.60" fill="none" stroke="#000" stroke-width="1.15"/>
<circle cx="370.6" cy="172.3" r="2.60" fill="none" stroke="#000" stroke-width="1.15"/>
<circle cx="383.6" cy="172.3" r="2.60" fill="none" stroke="#000" stroke-width="1.15"/>
<circle cx="408.8" cy="96.3" r="2.60" fill="none" stroke="#000" stroke-width="1.15"/>
<path d="M307.6,158.2 L320.3,158.2 L333.0,159.0 L345.7,154.7 L350.9,172.3 L358.0,172.3 L363.3,172.3 L370.6,172.3 L383.6,172.3 L396.2,114.6 L408.8,131.3" fill="none" stroke="#000" stroke-width="1.05"/>
<rect x="305.2" y="155.8" width="4.8" height="4.8" fill="none" stroke="#000" stroke-width="1.15"/>
<rect x="317.9" y="155.8" width="4.8" height="4.8" fill="none" stroke="#000" stroke-width="1.15"/>
<rect x="330.6" y="156.6" width="4.8" height="4.8" fill="none" stroke="#000" stroke-width="1.15"/>
<rect x="343.3" y="152.3" width="4.8" height="4.8" fill="none" stroke="#000" stroke-width="1.15"/>
<rect x="348.5" y="169.9" width="4.8" height="4.8" fill="none" stroke="#000" stroke-width="1.15"/>
<rect x="355.6" y="169.9" width="4.8" height="4.8" fill="none" stroke="#000" stroke-width="1.15"/>
<rect x="360.9" y="169.9" width="4.8" height="4.8" fill="none" stroke="#000" stroke-width="1.15"/>
<rect x="368.2" y="169.9" width="4.8" height="4.8" fill="none" stroke="#000" stroke-width="1.15"/>
<rect x="381.2" y="169.9" width="4.8" height="4.8" fill="none" stroke="#000" stroke-width="1.15"/>
<rect x="393.8" y="112.2" width="4.8" height="4.8" fill="none" stroke="#000" stroke-width="1.15"/>
<rect x="406.4" y="128.9" width="4.8" height="4.8" fill="none" stroke="#000" stroke-width="1.15"/>
<path d="M307.6,151.7 L320.3,158.0 L333.0,156.0 L345.7,146.6 L350.9,172.3 L358.0,172.3 L363.3,172.3 L370.6,172.3 L383.6,172.3 L396.2,155.4 L408.8,138.2" fill="none" stroke="#000" stroke-width="1.05"/>
<polygon points="307.6,154.7 304.6,149.3 310.6,149.3" fill="none" stroke="#000" stroke-width="1.15"/>
<polygon points="320.3,161.0 317.3,155.6 323.3,155.6" fill="none" stroke="#000" stroke-width="1.15"/>
<polygon points="333.0,159.0 330.0,153.6 336.0,153.6" fill="none" stroke="#000" stroke-width="1.15"/>
<polygon points="345.7,149.6 342.7,144.2 348.7,144.2" fill="none" stroke="#000" stroke-width="1.15"/>
<polygon points="350.9,175.3 347.9,169.9 353.9,169.9" fill="none" stroke="#000" stroke-width="1.15"/>
<polygon points="358.0,175.3 355.0,169.9 361.0,169.9" fill="none" stroke="#000" stroke-width="1.15"/>
<polygon points="363.3,175.3 360.3,169.9 366.3,169.9" fill="none" stroke="#000" stroke-width="1.15"/>
<polygon points="370.6,175.3 367.6,169.9 373.6,169.9" fill="none" stroke="#000" stroke-width="1.15"/>
<polygon points="383.6,175.3 380.6,169.9 386.6,169.9" fill="none" stroke="#000" stroke-width="1.15"/>
<polygon points="396.2,158.4 393.2,153.0 399.2,153.0" fill="none" stroke="#000" stroke-width="1.15"/>
<polygon points="408.8,141.2 405.8,135.8 411.8,135.8" fill="none" stroke="#000" stroke-width="1.15"/>
<path d="M307.6,147.3 L320.3,160.0 L333.0,160.0 L345.7,157.6 L350.9,172.3 L358.0,172.3 L363.3,172.3 L370.6,172.3 L383.6,172.3 L396.2,151.7 L408.8,164.1" fill="none" stroke="#000" stroke-width="1.05"/>
<path d="M305.2,144.9 H310.1 L305.2,149.8 H310.1 Z" fill="none" stroke="#000" stroke-width="1.15"/>
<path d="M317.9,157.6 H322.8 L317.9,162.4 H322.8 Z" fill="none" stroke="#000" stroke-width="1.15"/>
<path d="M330.6,157.6 H335.4 L330.6,162.4 H335.4 Z" fill="none" stroke="#000" stroke-width="1.15"/>
<path d="M343.2,155.2 H348.1 L343.2,160.0 H348.1 Z" fill="none" stroke="#000" stroke-width="1.15"/>
<path d="M348.4,169.9 H353.3 L348.4,174.8 H353.3 Z" fill="none" stroke="#000" stroke-width="1.15"/>
<path d="M355.6,169.9 H360.4 L355.6,174.8 H360.4 Z" fill="none" stroke="#000" stroke-width="1.15"/>
<path d="M360.9,169.9 H365.8 L360.9,174.8 H365.8 Z" fill="none" stroke="#000" stroke-width="1.15"/>
<path d="M368.2,169.9 H373.1 L368.2,174.8 H373.1 Z" fill="none" stroke="#000" stroke-width="1.15"/>
<path d="M381.2,169.9 H386.1 L381.2,174.8 H386.1 Z" fill="none" stroke="#000" stroke-width="1.15"/>
<path d="M393.8,149.2 H398.6 L393.8,154.1 H398.6 Z" fill="none" stroke="#000" stroke-width="1.15"/>
<path d="M406.4,161.7 H411.2 L406.4,166.5 H411.2 Z" fill="none" stroke="#000" stroke-width="1.15"/>
<path d="M307.6,158.2 L320.3,167.0 L333.0,160.0 L345.7,157.6 L350.9,172.3 L358.0,172.3 L363.3,167.8 L370.6,168.5 L383.6,163.8 L396.2,160.0 L408.8,167.0" fill="none" stroke="#000" stroke-width="1.05"/>
<polygon points="307.6,155.2 304.6,160.6 310.6,160.6" fill="none" stroke="#000" stroke-width="1.15"/>
<polygon points="320.3,164.0 317.3,169.4 323.3,169.4" fill="none" stroke="#000" stroke-width="1.15"/>
<polygon points="333.0,157.0 330.0,162.4 336.0,162.4" fill="none" stroke="#000" stroke-width="1.15"/>
<polygon points="345.7,154.6 342.7,160.0 348.7,160.0" fill="none" stroke="#000" stroke-width="1.15"/>
<polygon points="350.9,169.3 347.9,174.7 353.9,174.7" fill="none" stroke="#000" stroke-width="1.15"/>
<polygon points="358.0,169.3 355.0,174.7 361.0,174.7" fill="none" stroke="#000" stroke-width="1.15"/>
<polygon points="363.3,164.8 360.3,170.2 366.3,170.2" fill="none" stroke="#000" stroke-width="1.15"/>
<polygon points="370.6,165.5 367.6,170.9 373.6,170.9" fill="none" stroke="#000" stroke-width="1.15"/>
<polygon points="383.6,160.8 380.6,166.2 386.6,166.2" fill="none" stroke="#000" stroke-width="1.15"/>
<polygon points="396.2,157.0 393.2,162.4 399.2,162.4" fill="none" stroke="#000" stroke-width="1.15"/>
<polygon points="408.8,164.0 405.8,169.4 411.8,169.4" fill="none" stroke="#000" stroke-width="1.15"/>
<rect x="348.6" y="169.7" width="5.4" height="5.4" rx="1.2" fill="#000"/>
<rect x="355.9" y="169.7" width="5.4" height="5.4" rx="1.2" fill="#000"/>
<rect x="360.9" y="169.7" width="5.4" height="5.4" rx="1.2" fill="#000"/>
<rect x="368.4" y="169.7" width="5.4" height="5.4" rx="1.2" fill="#000"/>
<rect x="381.1" y="169.7" width="5.4" height="5.4" rx="1.2" fill="#000"/>
<path d="M412.6,86.0 L416.5,84.9 L419.4,68.0 L422.5,80.1 L432.9,104.6 L438.5,73.7 L443.5,66.0 L449.8,70.3 L454.7,72.3 L459.7,108.9 L473.8,115.1 L482.3,97.6 L493.0,123.8 L504.2,118.7 L514.6,120.1" fill="none" stroke="#000" stroke-width="1.05"/>
<polygon points="416.5,81.8 419.6,84.9 416.5,88.0 413.4,84.9" fill="none" stroke="#000" stroke-width="1.15"/>
<polygon points="419.4,64.9 422.5,68.0 419.4,71.1 416.3,68.0" fill="none" stroke="#000" stroke-width="1.15"/>
<polygon points="422.5,77.0 425.6,80.1 422.5,83.2 419.4,80.1" fill="none" stroke="#000" stroke-width="1.15"/>
<polygon points="432.9,101.5 436.0,104.6 432.9,107.7 429.8,104.6" fill="none" stroke="#000" stroke-width="1.15"/>
<polygon points="438.5,70.6 441.6,73.7 438.5,76.8 435.4,73.7" fill="none" stroke="#000" stroke-width="1.15"/>
<polygon points="443.5,62.9 446.6,66.0 443.5,69.1 440.4,66.0" fill="none" stroke="#000" stroke-width="1.15"/>
<polygon points="449.8,67.2 452.9,70.3 449.8,73.4 446.7,70.3" fill="none" stroke="#000" stroke-width="1.15"/>
<polygon points="454.7,69.2 457.8,72.3 454.7,75.4 451.6,72.3" fill="none" stroke="#000" stroke-width="1.15"/>
<polygon points="459.7,105.8 462.8,108.9 459.7,112.0 456.6,108.9" fill="none" stroke="#000" stroke-width="1.15"/>
<polygon points="473.8,112.0 476.9,115.1 473.8,118.2 470.7,115.1" fill="none" stroke="#000" stroke-width="1.15"/>
<polygon points="482.3,94.5 485.4,97.6 482.3,100.7 479.2,97.6" fill="none" stroke="#000" stroke-width="1.15"/>
<polygon points="493.0,120.7 496.1,123.8 493.0,126.9 489.9,123.8" fill="none" stroke="#000" stroke-width="1.15"/>
<polygon points="504.2,115.6 507.3,118.7 504.2,121.8 501.1,118.7" fill="none" stroke="#000" stroke-width="1.15"/>
<polygon points="514.6,117.0 517.7,120.1 514.6,123.2 511.5,120.1" fill="none" stroke="#000" stroke-width="1.15"/>
<path d="M412.4,105.7 L416.5,117.2 L419.5,120.5 L422.5,123.8 L432.9,37.0 L438.5,94.2 L443.5,123.8 L449.8,116.8 L454.7,141.3 L459.7,133.4 L473.8,144.1 L482.3,133.7 L493.0,144.1 L504.2,131.4 L514.6,134.8" fill="none" stroke="#000" stroke-width="1.05"/>
<circle cx="416.5" cy="117.2" r="2.60" fill="none" stroke="#000" stroke-width="1.15"/>
<circle cx="419.5" cy="120.5" r="2.60" fill="none" stroke="#000" stroke-width="1.15"/>
<circle cx="422.5" cy="123.8" r="2.60" fill="none" stroke="#000" stroke-width="1.15"/>
<circle cx="432.9" cy="37.0" r="2.60" fill="none" stroke="#000" stroke-width="1.15"/>
<circle cx="438.5" cy="94.2" r="2.60" fill="none" stroke="#000" stroke-width="1.15"/>
<circle cx="443.5" cy="123.8" r="2.60" fill="none" stroke="#000" stroke-width="1.15"/>
<circle cx="449.8" cy="116.8" r="2.60" fill="none" stroke="#000" stroke-width="1.15"/>
<circle cx="454.7" cy="141.3" r="2.60" fill="none" stroke="#000" stroke-width="1.15"/>
<circle cx="459.7" cy="133.4" r="2.60" fill="none" stroke="#000" stroke-width="1.15"/>
<circle cx="473.8" cy="144.1" r="2.60" fill="none" stroke="#000" stroke-width="1.15"/>
<circle cx="482.3" cy="133.7" r="2.60" fill="none" stroke="#000" stroke-width="1.15"/>
<circle cx="493.0" cy="144.1" r="2.60" fill="none" stroke="#000" stroke-width="1.15"/>
<circle cx="504.2" cy="131.4" r="2.60" fill="none" stroke="#000" stroke-width="1.15"/>
<circle cx="514.6" cy="134.8" r="2.60" fill="none" stroke="#000" stroke-width="1.15"/>
<path d="M412.6,128.0 L416.5,133.7 L421.5,130.4 L433.0,138.7 L437.7,151.5 L442.9,144.5 L449.9,154.0 L454.7,155.0 L459.7,158.0 L473.8,153.1 L482.3,145.5 L493.0,157.3 L504.2,150.6 L514.6,156.2" fill="none" stroke="#000" stroke-width="1.05"/>
<path d="M414.1,131.2 H418.9 L414.1,136.1 H418.9 Z" fill="none" stroke="#000" stroke-width="1.15"/>
<path d="M419.1,128.0 H423.9 L419.1,132.8 H423.9 Z" fill="none" stroke="#000" stroke-width="1.15"/>
<path d="M430.6,136.2 H435.4 L430.6,141.1 H435.4 Z" fill="none" stroke="#000" stroke-width="1.15"/>
<path d="M435.2,149.1 H440.1 L435.2,153.9 H440.1 Z" fill="none" stroke="#000" stroke-width="1.15"/>
<path d="M440.4,142.1 H445.3 L440.4,146.9 H445.3 Z" fill="none" stroke="#000" stroke-width="1.15"/>
<path d="M447.4,151.6 H452.3 L447.4,156.4 H452.3 Z" fill="none" stroke="#000" stroke-width="1.15"/>
<path d="M452.2,152.6 H457.1 L452.2,157.4 H457.1 Z" fill="none" stroke="#000" stroke-width="1.15"/>
<path d="M457.2,155.6 H462.1 L457.2,160.4 H462.1 Z" fill="none" stroke="#000" stroke-width="1.15"/>
<path d="M471.4,150.7 H476.2 L471.4,155.5 H476.2 Z" fill="none" stroke="#000" stroke-width="1.15"/>
<path d="M479.9,143.1 H484.8 L479.9,147.9 H484.8 Z" fill="none" stroke="#000" stroke-width="1.15"/>
<path d="M490.6,154.9 H495.4 L490.6,159.8 H495.4 Z" fill="none" stroke="#000" stroke-width="1.15"/>
<path d="M501.8,148.2 H506.6 L501.8,153.0 H506.6 Z" fill="none" stroke="#000" stroke-width="1.15"/>
<path d="M512.1,153.8 H517.1 L512.1,158.6 H517.1 Z" fill="none" stroke="#000" stroke-width="1.15"/>
<path d="M412.6,134.0 L416.5,141.2 L419.5,150.0 L422.5,155.0 L433.0,154.4 L443.5,160.0 L449.8,161.0 L454.7,162.0 L459.7,161.0 L473.8,162.0 L482.3,161.0 L493.0,162.5 L504.2,162.0 L514.6,161.0" fill="none" stroke="#000" stroke-width="1.05"/>
<rect x="414.1" y="138.8" width="4.8" height="4.8" fill="none" stroke="#000" stroke-width="1.60"/>
<rect x="417.1" y="147.6" width="4.8" height="4.8" fill="none" stroke="#000" stroke-width="1.60"/>
<rect x="420.1" y="152.6" width="4.8" height="4.8" fill="none" stroke="#000" stroke-width="1.60"/>
<rect x="430.6" y="152.0" width="4.8" height="4.8" fill="none" stroke="#000" stroke-width="1.60"/>
<rect x="441.1" y="157.6" width="4.8" height="4.8" fill="none" stroke="#000" stroke-width="1.60"/>
<rect x="447.4" y="158.6" width="4.8" height="4.8" fill="none" stroke="#000" stroke-width="1.60"/>
<rect x="452.3" y="159.6" width="4.8" height="4.8" fill="none" stroke="#000" stroke-width="1.60"/>
<rect x="457.3" y="158.6" width="4.8" height="4.8" fill="none" stroke="#000" stroke-width="1.60"/>
<rect x="471.4" y="159.6" width="4.8" height="4.8" fill="none" stroke="#000" stroke-width="1.60"/>
<rect x="479.9" y="158.6" width="4.8" height="4.8" fill="none" stroke="#000" stroke-width="1.60"/>
<rect x="490.6" y="160.1" width="4.8" height="4.8" fill="none" stroke="#000" stroke-width="1.60"/>
<rect x="501.8" y="159.6" width="4.8" height="4.8" fill="none" stroke="#000" stroke-width="1.60"/>
<rect x="512.2" y="158.6" width="4.8" height="4.8" fill="none" stroke="#000" stroke-width="1.60"/>
<path d="M412.6,140.0 L416.5,147.8 L419.5,155.0 L422.5,160.0 L433.0,160.0 L443.5,162.0 L449.8,162.5 L454.7,163.0 L459.7,163.0 L473.8,163.5 L482.3,162.0 L493.0,163.5 L504.2,163.0 L514.6,163.5" fill="none" stroke="#000" stroke-width="1.05"/>
<polygon points="416.5,150.8 413.5,145.4 419.5,145.4" fill="none" stroke="#000" stroke-width="1.60"/>
<polygon points="419.5,158.0 416.5,152.6 422.5,152.6" fill="none" stroke="#000" stroke-width="1.60"/>
<polygon points="422.5,163.0 419.5,157.6 425.5,157.6" fill="none" stroke="#000" stroke-width="1.60"/>
<polygon points="433.0,163.0 430.0,157.6 436.0,157.6" fill="none" stroke="#000" stroke-width="1.60"/>
<polygon points="443.5,165.0 440.5,159.6 446.5,159.6" fill="none" stroke="#000" stroke-width="1.60"/>
<polygon points="449.8,165.5 446.8,160.1 452.8,160.1" fill="none" stroke="#000" stroke-width="1.60"/>
<polygon points="454.7,166.0 451.7,160.6 457.7,160.6" fill="none" stroke="#000" stroke-width="1.60"/>
<polygon points="459.7,166.0 456.7,160.6 462.7,160.6" fill="none" stroke="#000" stroke-width="1.60"/>
<polygon points="473.8,166.5 470.8,161.1 476.8,161.1" fill="none" stroke="#000" stroke-width="1.60"/>
<polygon points="482.3,165.0 479.3,159.6 485.3,159.6" fill="none" stroke="#000" stroke-width="1.60"/>
<polygon points="493.0,166.5 490.0,161.1 496.0,161.1" fill="none" stroke="#000" stroke-width="1.60"/>
<polygon points="504.2,166.0 501.2,160.6 507.2,160.6" fill="none" stroke="#000" stroke-width="1.60"/>
<polygon points="514.6,166.5 511.6,161.1 517.6,161.1" fill="none" stroke="#000" stroke-width="1.60"/>
<path d="M412.6,166.0 L416.5,161.3 L421.5,161.3 L433.0,161.0 L443.7,161.0 L449.8,163.0 L454.7,163.5 L459.7,164.0 L473.8,164.0 L482.3,163.5 L493.0,164.0 L504.2,164.5 L514.6,164.0" fill="none" stroke="#000" stroke-width="1.05"/>
<polygon points="416.5,158.3 413.5,163.7 419.5,163.7" fill="none" stroke="#000" stroke-width="1.60"/>
<polygon points="421.5,158.3 418.5,163.7 424.5,163.7" fill="none" stroke="#000" stroke-width="1.60"/>
<polygon points="433.0,158.0 430.0,163.4 436.0,163.4" fill="none" stroke="#000" stroke-width="1.60"/>
<polygon points="443.7,158.0 440.7,163.4 446.7,163.4" fill="none" stroke="#000" stroke-width="1.60"/>
<polygon points="449.8,160.0 446.8,165.4 452.8,165.4" fill="none" stroke="#000" stroke-width="1.60"/>
<polygon points="454.7,160.5 451.7,165.9 457.7,165.9" fill="none" stroke="#000" stroke-width="1.60"/>
<polygon points="459.7,161.0 456.7,166.4 462.7,166.4" fill="none" stroke="#000" stroke-width="1.60"/>
<polygon points="473.8,161.0 470.8,166.4 476.8,166.4" fill="none" stroke="#000" stroke-width="1.60"/>
<polygon points="482.3,160.5 479.3,165.9 485.3,165.9" fill="none" stroke="#000" stroke-width="1.60"/>
<polygon points="493.0,161.0 490.0,166.4 496.0,166.4" fill="none" stroke="#000" stroke-width="1.60"/>
<polygon points="504.2,161.5 501.2,166.9 507.2,166.9" fill="none" stroke="#000" stroke-width="1.60"/>
<polygon points="514.6,161.0 511.6,166.4 517.6,166.4" fill="none" stroke="#000" stroke-width="1.60"/>
<path d="M97.8,248.2 L148.4,262.5 L186.6,255.4" fill="none" stroke="#000" stroke-width="1.05"/>
<polygon points="97.8,244.9 94.5,250.8 101.1,250.8" fill="#000"/>
<polygon points="148.4,259.2 145.1,265.1 151.7,265.1" fill="#000"/>
<polygon points="186.6,252.1 183.3,258.0 189.9,258.0" fill="#000"/>
<path d="M190.6,256.0 L205.2,260.1" fill="none" stroke="#000" stroke-width="1.05"/>
<polygon points="205.2,256.8 201.9,262.7 208.5,262.7" fill="#000"/>
<path d="M97.8,251.0 L148.4,262.7 L186.6,262.2" fill="none" stroke="#000" stroke-width="1.05"/>
<rect x="95.2" y="248.4" width="5.1" height="5.1" fill="#000"/>
<rect x="145.8" y="260.1" width="5.1" height="5.1" fill="#000"/>
<rect x="184.0" y="259.6" width="5.1" height="5.1" fill="#000"/>
<path d="M190.6,260.0 L205.2,252.4" fill="none" stroke="#000" stroke-width="1.05"/>
<rect x="202.6" y="249.8" width="5.1" height="5.1" fill="#000"/>
<path d="M97.8,252.5 L148.4,271.3 L186.6,272.4" fill="none" stroke="#000" stroke-width="1.05"/>
<circle cx="97.8" cy="252.5" r="2.90" fill="#000"/>
<circle cx="148.4" cy="271.3" r="2.90" fill="#000"/>
<circle cx="186.6" cy="272.4" r="2.90" fill="#000"/>
<path d="M190.6,268.5 L205.2,250.2" fill="none" stroke="#000" stroke-width="1.05"/>
<circle cx="205.2" cy="250.2" r="2.90" fill="#000"/>
<path d="M97.8,256.0 L148.4,269.6 L186.6,279.8" fill="none" stroke="#000" stroke-width="1.05"/>
<polygon points="97.8,259.3 94.5,253.4 101.1,253.4" fill="#000"/>
<polygon points="148.4,272.9 145.1,267.0 151.7,267.0" fill="#000"/>
<polygon points="186.6,283.1 183.3,277.2 189.9,277.2" fill="#000"/>
<path d="M190.6,279.0 L205.2,269.6" fill="none" stroke="#000" stroke-width="1.05"/>
<polygon points="205.2,272.9 201.9,267.0 208.5,267.0" fill="#000"/>
<path d="M97.8,259.5 L148.4,281.2 L186.6,282.8" fill="none" stroke="#000" stroke-width="1.05"/>
<polygon points="97.8,256.2 101.1,259.5 97.8,262.8 94.5,259.5" fill="#000"/>
<polygon points="148.4,277.9 151.7,281.2 148.4,284.5 145.1,281.2" fill="#000"/>
<polygon points="186.6,279.5 189.9,282.8 186.6,286.1 183.3,282.8" fill="#000"/>
<path d="M190.6,281.0 L205.2,274.4" fill="none" stroke="#000" stroke-width="1.05"/>
<polygon points="205.2,271.1 208.5,274.4 205.2,277.7 201.9,274.4" fill="#000"/>
<path d="M97.8,283.5 L148.4,289.7 L186.6,297.5" fill="none" stroke="#000" stroke-width="1.05"/>
<polygon points="97.8,280.0 98.7,282.3 101.1,282.4 99.2,284.0 99.9,286.3 97.8,285.0 95.7,286.3 96.4,284.0 94.5,282.4 96.9,282.3" fill="#000"/>
<polygon points="148.4,286.2 149.3,288.5 151.7,288.6 149.8,290.2 150.5,292.5 148.4,291.2 146.3,292.5 147.0,290.2 145.1,288.6 147.5,288.5" fill="#000"/>
<polygon points="186.6,294.0 187.5,296.3 189.9,296.4 188.0,298.0 188.7,300.3 186.6,299.0 184.5,300.3 185.2,298.0 183.3,296.4 185.7,296.3" fill="#000"/>
<path d="M190.6,295.5 L205.2,286.0" fill="none" stroke="#000" stroke-width="1.05"/>
<polygon points="205.2,282.5 206.1,284.8 208.5,284.9 206.6,286.5 207.3,288.8 205.2,287.5 203.1,288.8 203.8,286.5 201.9,284.9 204.3,284.8" fill="#000"/>
<path d="M320.5,249.3 L371.2,316.0 L408.7,293.3" fill="none" stroke="#000" stroke-width="1.05"/>
<path d="M318.1,246.9 H322.9 L318.1,251.8 H322.9 Z" fill="none" stroke="#000" stroke-width="1.15"/>
<path d="M368.8,313.6 H373.6 L368.8,318.4 H373.6 Z" fill="none" stroke="#000" stroke-width="1.15"/>
<path d="M406.2,290.9 H411.1 L406.2,295.8 H411.1 Z" fill="none" stroke="#000" stroke-width="1.15"/>
<path d="M413.3,292.0 L427.6,287.2" fill="none" stroke="#000" stroke-width="1.05"/>
<path d="M425.2,284.8 H430.1 L425.2,289.6 H430.1 Z" fill="none" stroke="#000" stroke-width="1.15"/>
<path d="M320.5,259.9 L371.2,316.5 L408.7,280.7" fill="none" stroke="#000" stroke-width="1.05"/>
<polygon points="320.5,262.9 317.5,257.5 323.5,257.5" fill="none" stroke="#000" stroke-width="1.15"/>
<polygon points="371.2,319.5 368.2,314.1 374.2,314.1" fill="none" stroke="#000" stroke-width="1.15"/>
<polygon points="408.7,283.7 405.7,278.3 411.7,278.3" fill="none" stroke="#000" stroke-width="1.15"/>
<path d="M413.3,281.2 L427.6,283.1" fill="none" stroke="#000" stroke-width="1.05"/>
<polygon points="427.6,286.1 424.6,280.7 430.6,280.7" fill="none" stroke="#000" stroke-width="1.15"/>
<path d="M320.5,269.6 L371.2,324.5 L408.7,298.0" fill="none" stroke="#000" stroke-width="1.05"/>
<circle cx="320.5" cy="269.6" r="2.60" fill="none" stroke="#000" stroke-width="1.15"/>
<circle cx="371.2" cy="324.5" r="2.60" fill="none" stroke="#000" stroke-width="1.15"/>
<circle cx="408.7" cy="298.0" r="2.60" fill="none" stroke="#000" stroke-width="1.15"/>
<path d="M413.3,297.5 L427.6,296.0" fill="none" stroke="#000" stroke-width="1.05"/>
<circle cx="427.6" cy="296.0" r="2.60" fill="none" stroke="#000" stroke-width="1.15"/>
<path d="M320.5,273.8 L371.2,315.0 L408.7,302.0" fill="none" stroke="#000" stroke-width="1.05"/>
<rect x="318.1" y="271.4" width="4.8" height="4.8" fill="none" stroke="#000" stroke-width="1.15"/>
<rect x="368.8" y="312.6" width="4.8" height="4.8" fill="none" stroke="#000" stroke-width="1.15"/>
<rect x="406.3" y="299.6" width="4.8" height="4.8" fill="none" stroke="#000" stroke-width="1.15"/>
<path d="M413.3,303.0 L427.6,306.9" fill="none" stroke="#000" stroke-width="1.05"/>
<rect x="425.2" y="304.5" width="4.8" height="4.8" fill="none" stroke="#000" stroke-width="1.15"/>
<path d="M320.5,283.9 L371.2,294.3 L408.7,295.5" fill="none" stroke="#000" stroke-width="1.05"/>
<polygon points="320.5,280.9 317.5,286.3 323.5,286.3" fill="none" stroke="#000" stroke-width="1.15"/>
<polygon points="371.2,291.3 368.2,296.7 374.2,296.7" fill="none" stroke="#000" stroke-width="1.15"/>
<polygon points="408.7,292.5 405.7,297.9 411.7,297.9" fill="none" stroke="#000" stroke-width="1.15"/>
<path d="M413.3,295.8 L427.6,296.5" fill="none" stroke="#000" stroke-width="1.05"/>
<polygon points="427.6,293.5 424.6,298.9 430.6,298.9" fill="none" stroke="#000" stroke-width="1.15"/>
<path d="M320.5,287.6 L371.2,318.0 L408.7,299.0" fill="none" stroke="#000" stroke-width="1.05"/>
<polygon points="320.5,284.5 323.6,287.6 320.5,290.7 317.4,287.6" fill="none" stroke="#000" stroke-width="1.15"/>
<polygon points="371.2,314.9 374.3,318.0 371.2,321.1 368.1,318.0" fill="none" stroke="#000" stroke-width="1.15"/>
<polygon points="408.7,295.9 411.8,299.0 408.7,302.1 405.6,299.0" fill="none" stroke="#000" stroke-width="1.15"/>
<path d="M413.3,298.5 L427.6,294.6" fill="none" stroke="#000" stroke-width="1.05"/>
<polygon points="427.6,291.5 430.7,294.6 427.6,297.7 424.5,294.6" fill="none" stroke="#000" stroke-width="1.15"/>
<path d="M85.6,460.0 L98.1,450.7 L110.9,442.0 L123.1,427.6 L128.6,462.0 L135.8,442.8 L141.3,455.0 L148.3,468.0 L161.1,449.0 L173.8,438.5 L186.4,455.6" fill="none" stroke="#000" stroke-width="1.05"/>
<polygon points="85.6,456.5 86.5,458.8 88.9,458.9 87.0,460.5 87.7,462.8 85.6,461.5 83.5,462.8 84.2,460.5 82.3,458.9 84.7,458.8" fill="#000"/>
<polygon points="98.1,447.2 99.0,449.5 101.4,449.6 99.5,451.2 100.2,453.5 98.1,452.2 96.0,453.5 96.7,451.2 94.8,449.6 97.2,449.5" fill="#000"/>
<polygon points="110.9,438.5 111.8,440.8 114.2,440.9 112.3,442.5 113.0,444.8 110.9,443.5 108.8,444.8 109.5,442.5 107.6,440.9 110.0,440.8" fill="#000"/>
<polygon points="123.1,424.1 124.0,426.4 126.4,426.5 124.5,428.1 125.2,430.4 123.1,429.1 121.0,430.4 121.7,428.1 119.8,426.5 122.2,426.4" fill="#000"/>
<polygon points="128.6,458.5 129.5,460.8 131.9,460.9 130.0,462.5 130.7,464.8 128.6,463.5 126.5,464.8 127.2,462.5 125.3,460.9 127.7,460.8" fill="#000"/>
<polygon points="135.8,439.3 136.7,441.6 139.1,441.7 137.2,443.3 137.9,445.6 135.8,444.3 133.7,445.6 134.4,443.3 132.5,441.7 134.9,441.6" fill="#000"/>
<polygon points="141.3,451.5 142.2,453.8 144.6,453.9 142.7,455.5 143.4,457.8 141.3,456.5 139.2,457.8 139.9,455.5 138.0,453.9 140.4,453.8" fill="#000"/>
<polygon points="148.3,464.5 149.2,466.8 151.6,466.9 149.7,468.5 150.4,470.8 148.3,469.5 146.2,470.8 146.9,468.5 145.0,466.9 147.4,466.8" fill="#000"/>
<polygon points="161.1,445.5 162.0,447.8 164.4,447.9 162.5,449.5 163.2,451.8 161.1,450.5 159.0,451.8 159.7,449.5 157.8,447.9 160.2,447.8" fill="#000"/>
<polygon points="173.8,435.0 174.7,437.3 177.1,437.4 175.2,439.0 175.9,441.3 173.8,440.0 171.7,441.3 172.4,439.0 170.5,437.4 172.9,437.3" fill="#000"/>
<polygon points="186.4,452.1 187.3,454.4 189.7,454.5 187.8,456.1 188.5,458.4 186.4,457.1 184.3,458.4 185.0,456.1 183.1,454.5 185.5,454.4" fill="#000"/>
<path d="M190.6,448.0 L194.5,439.9 L196.6,456.0 L199.2,460.0 L210.5,455.0 L216.1,450.6 L221.1,462.0 L226.8,446.7 L232.5,456.0 L237.8,455.0 L250.7,464.0 L259.6,448.7 L270.6,460.0 L281.5,454.3 L292.3,463.6" fill="none" stroke="#000" stroke-width="1.05"/>
<polygon points="194.5,436.4 195.4,438.7 197.8,438.8 195.9,440.4 196.6,442.7 194.5,441.4 192.4,442.7 193.1,440.4 191.2,438.8 193.6,438.7" fill="#000"/>
<polygon points="196.6,452.5 197.5,454.8 199.9,454.9 198.0,456.5 198.7,458.8 196.6,457.5 194.5,458.8 195.2,456.5 193.3,454.9 195.7,454.8" fill="#000"/>
<polygon points="199.2,456.5 200.1,458.8 202.5,458.9 200.6,460.5 201.3,462.8 199.2,461.5 197.1,462.8 197.8,460.5 195.9,458.9 198.3,458.8" fill="#000"/>
<polygon points="210.5,451.5 211.4,453.8 213.8,453.9 211.9,455.5 212.6,457.8 210.5,456.5 208.4,457.8 209.1,455.5 207.2,453.9 209.6,453.8" fill="#000"/>
<polygon points="216.1,447.1 217.0,449.4 219.4,449.5 217.5,451.1 218.2,453.4 216.1,452.1 214.0,453.4 214.7,451.1 212.8,449.5 215.2,449.4" fill="#000"/>
<polygon points="221.1,458.5 222.0,460.8 224.4,460.9 222.5,462.5 223.2,464.8 221.1,463.5 219.0,464.8 219.7,462.5 217.8,460.9 220.2,460.8" fill="#000"/>
<polygon points="226.8,443.2 227.7,445.5 230.1,445.6 228.2,447.2 228.9,449.5 226.8,448.2 224.7,449.5 225.4,447.2 223.5,445.6 225.9,445.5" fill="#000"/>
<polygon points="232.5,452.5 233.4,454.8 235.8,454.9 233.9,456.5 234.6,458.8 232.5,457.5 230.4,458.8 231.1,456.5 229.2,454.9 231.6,454.8" fill="#000"/>
<polygon points="237.8,451.5 238.7,453.8 241.1,453.9 239.2,455.5 239.9,457.8 237.8,456.5 235.7,457.8 236.4,455.5 234.5,453.9 236.9,453.8" fill="#000"/>
<polygon points="250.7,460.5 251.6,462.8 254.0,462.9 252.1,464.5 252.8,466.8 250.7,465.5 248.6,466.8 249.3,464.5 247.4,462.9 249.8,462.8" fill="#000"/>
<polygon points="259.6,445.2 260.5,447.5 262.9,447.6 261.0,449.2 261.7,451.5 259.6,450.2 257.5,451.5 258.2,449.2 256.3,447.6 258.7,447.5" fill="#000"/>
<polygon points="270.6,456.5 271.5,458.8 273.9,458.9 272.0,460.5 272.7,462.8 270.6,461.5 268.5,462.8 269.2,460.5 267.3,458.9 269.7,458.8" fill="#000"/>
<polygon points="281.5,450.8 282.4,453.1 284.8,453.2 282.9,454.8 283.6,457.1 281.5,455.8 279.4,457.1 280.1,454.8 278.2,453.2 280.6,453.1" fill="#000"/>
<polygon points="292.3,460.1 293.2,462.4 295.6,462.5 293.7,464.1 294.4,466.4 292.3,465.1 290.2,466.4 290.9,464.1 289.0,462.5 291.4,462.4" fill="#000"/>
<path d="M85.6,465.0 L98.1,445.8 L110.9,462.1 L123.1,454.7 L128.6,463.8 L135.8,449.8 L141.3,452.1 L148.3,466.0 L161.1,454.5 L173.8,445.1 L186.4,459.1" fill="none" stroke="#000" stroke-width="1.05"/>
<circle cx="85.6" cy="465.0" r="2.90" fill="#000"/>
<circle cx="98.1" cy="445.8" r="2.90" fill="#000"/>
<circle cx="110.9" cy="462.1" r="2.90" fill="#000"/>
<circle cx="123.1" cy="454.7" r="2.90" fill="#000"/>
<circle cx="128.6" cy="463.8" r="2.90" fill="#000"/>
<circle cx="135.8" cy="449.8" r="2.90" fill="#000"/>
<circle cx="141.3" cy="452.1" r="2.90" fill="#000"/>
<circle cx="148.3" cy="466.0" r="2.90" fill="#000"/>
<circle cx="161.1" cy="454.5" r="2.90" fill="#000"/>
<circle cx="173.8" cy="445.1" r="2.90" fill="#000"/>
<circle cx="186.4" cy="459.1" r="2.90" fill="#000"/>
<path d="M190.6,459.0 L194.5,457.5 L196.6,460.0 L199.2,458.0 L210.5,461.0 L216.1,457.0 L221.1,463.0 L226.8,464.0 L232.5,448.7 L237.8,460.0 L250.7,458.5 L259.6,459.3 L270.6,462.0 L281.5,467.0 L292.3,470.3" fill="none" stroke="#000" stroke-width="1.05"/>
<circle cx="194.5" cy="457.5" r="2.90" fill="#000"/>
<circle cx="196.6" cy="460.0" r="2.90" fill="#000"/>
<circle cx="199.2" cy="458.0" r="2.90" fill="#000"/>
<circle cx="210.5" cy="461.0" r="2.90" fill="#000"/>
<circle cx="216.1" cy="457.0" r="2.90" fill="#000"/>
<circle cx="221.1" cy="463.0" r="2.90" fill="#000"/>
<circle cx="226.8" cy="464.0" r="2.90" fill="#000"/>
<circle cx="232.5" cy="448.7" r="2.90" fill="#000"/>
<circle cx="237.8" cy="460.0" r="2.90" fill="#000"/>
<circle cx="250.7" cy="458.5" r="2.90" fill="#000"/>
<circle cx="259.6" cy="459.3" r="2.90" fill="#000"/>
<circle cx="270.6" cy="462.0" r="2.90" fill="#000"/>
<circle cx="281.5" cy="467.0" r="2.90" fill="#000"/>
<circle cx="292.3" cy="470.3" r="2.90" fill="#000"/>
<path d="M85.6,456.0 L98.1,458.0 L110.9,460.0 L123.1,473.4 L128.6,467.0 L135.8,456.8 L141.3,459.8 L148.3,463.0 L161.1,458.6 L173.8,452.1 L186.4,473.8" fill="none" stroke="#000" stroke-width="1.05"/>
<polygon points="85.6,452.7 88.9,456.0 85.6,459.3 82.3,456.0" fill="#000"/>
<polygon points="98.1,454.7 101.4,458.0 98.1,461.3 94.8,458.0" fill="#000"/>
<polygon points="110.9,456.7 114.2,460.0 110.9,463.3 107.6,460.0" fill="#000"/>
<polygon points="123.1,470.1 126.4,473.4 123.1,476.7 119.8,473.4" fill="#000"/>
<polygon points="128.6,463.7 131.9,467.0 128.6,470.3 125.3,467.0" fill="#000"/>
<polygon points="135.8,453.5 139.1,456.8 135.8,460.1 132.5,456.8" fill="#000"/>
<polygon points="141.3,456.5 144.6,459.8 141.3,463.1 138.0,459.8" fill="#000"/>
<polygon points="148.3,459.7 151.6,463.0 148.3,466.3 145.0,463.0" fill="#000"/>
<polygon points="161.1,455.3 164.4,458.6 161.1,461.9 157.8,458.6" fill="#000"/>
<polygon points="173.8,448.8 177.1,452.1 173.8,455.4 170.5,452.1" fill="#000"/>
<polygon points="186.4,470.5 189.7,473.8 186.4,477.1 183.1,473.8" fill="#000"/>
<path d="M190.6,473.0 L194.5,462.0 L196.6,466.0 L199.2,463.0 L210.5,466.0 L216.1,462.0 L221.1,467.0 L226.8,466.0 L232.5,463.0 L237.8,465.2 L250.7,467.7 L259.6,465.8 L270.6,469.0 L281.5,470.3 L292.3,474.0" fill="none" stroke="#000" stroke-width="1.05"/>
<polygon points="194.5,458.7 197.8,462.0 194.5,465.3 191.2,462.0" fill="#000"/>
<polygon points="196.6,462.7 199.9,466.0 196.6,469.3 193.3,466.0" fill="#000"/>
<polygon points="199.2,459.7 202.5,463.0 199.2,466.3 195.9,463.0" fill="#000"/>
<polygon points="210.5,462.7 213.8,466.0 210.5,469.3 207.2,466.0" fill="#000"/>
<polygon points="216.1,458.7 219.4,462.0 216.1,465.3 212.8,462.0" fill="#000"/>
<polygon points="221.1,463.7 224.4,467.0 221.1,470.3 217.8,467.0" fill="#000"/>
<polygon points="226.8,462.7 230.1,466.0 226.8,469.3 223.5,466.0" fill="#000"/>
<polygon points="232.5,459.7 235.8,463.0 232.5,466.3 229.2,463.0" fill="#000"/>
<polygon points="237.8,461.9 241.1,465.2 237.8,468.5 234.5,465.2" fill="#000"/>
<polygon points="250.7,464.4 254.0,467.7 250.7,471.0 247.4,467.7" fill="#000"/>
<polygon points="259.6,462.5 262.9,465.8 259.6,469.1 256.3,465.8" fill="#000"/>
<polygon points="270.6,465.7 273.9,469.0 270.6,472.3 267.3,469.0" fill="#000"/>
<polygon points="281.5,467.0 284.8,470.3 281.5,473.6 278.2,470.3" fill="#000"/>
<polygon points="292.3,470.7 295.6,474.0 292.3,477.3 289.0,474.0" fill="#000"/>
<path d="M85.6,453.3 L98.1,458.6 L110.9,465.6 L123.1,471.7 L128.6,465.6 L135.8,466.1 L141.3,470.0 L148.3,466.4 L161.1,469.0 L173.8,464.7 L186.4,466.1" fill="none" stroke="#000" stroke-width="1.05"/>
<rect x="83.0" y="450.8" width="5.1" height="5.1" fill="#000"/>
<rect x="95.5" y="456.1" width="5.1" height="5.1" fill="#000"/>
<rect x="108.4" y="463.1" width="5.1" height="5.1" fill="#000"/>
<rect x="120.5" y="469.1" width="5.1" height="5.1" fill="#000"/>
<rect x="126.0" y="463.1" width="5.1" height="5.1" fill="#000"/>
<rect x="133.2" y="463.6" width="5.1" height="5.1" fill="#000"/>
<rect x="138.8" y="467.4" width="5.1" height="5.1" fill="#000"/>
<rect x="145.8" y="463.8" width="5.1" height="5.1" fill="#000"/>
<rect x="158.5" y="466.4" width="5.1" height="5.1" fill="#000"/>
<rect x="171.2" y="462.1" width="5.1" height="5.1" fill="#000"/>
<rect x="183.8" y="463.6" width="5.1" height="5.1" fill="#000"/>
<path d="M190.6,466.0 L194.5,467.0 L196.6,470.0 L199.2,468.0 L210.5,473.0 L216.1,469.0 L221.1,471.0 L226.8,472.0 L232.5,468.0 L237.8,469.6 L250.7,472.8 L259.6,468.5 L270.6,470.5 L281.5,472.0 L292.3,473.0" fill="none" stroke="#000" stroke-width="1.05"/>
<rect x="191.9" y="464.4" width="5.1" height="5.1" fill="#000"/>
<rect x="194.0" y="467.4" width="5.1" height="5.1" fill="#000"/>
<rect x="196.6" y="465.4" width="5.1" height="5.1" fill="#000"/>
<rect x="207.9" y="470.4" width="5.1" height="5.1" fill="#000"/>
<rect x="213.5" y="466.4" width="5.1" height="5.1" fill="#000"/>
<rect x="218.5" y="468.4" width="5.1" height="5.1" fill="#000"/>
<rect x="224.2" y="469.4" width="5.1" height="5.1" fill="#000"/>
<rect x="229.9" y="465.4" width="5.1" height="5.1" fill="#000"/>
<rect x="235.2" y="467.1" width="5.1" height="5.1" fill="#000"/>
<rect x="248.1" y="470.2" width="5.1" height="5.1" fill="#000"/>
<rect x="257.1" y="465.9" width="5.1" height="5.1" fill="#000"/>
<rect x="268.1" y="467.9" width="5.1" height="5.1" fill="#000"/>
<rect x="278.9" y="469.4" width="5.1" height="5.1" fill="#000"/>
<rect x="289.8" y="470.4" width="5.1" height="5.1" fill="#000"/>
<path d="M85.6,474.3 L98.1,474.9 L110.9,478.7 L123.1,472.0 L128.6,473.0 L135.8,473.0 L141.3,475.2 L148.3,478.0 L161.1,473.0 L173.8,468.0 L186.4,470.0" fill="none" stroke="#000" stroke-width="1.05"/>
<polygon points="85.6,471.0 82.3,476.9 88.9,476.9" fill="#000"/>
<polygon points="98.1,471.6 94.8,477.5 101.4,477.5" fill="#000"/>
<polygon points="110.9,475.4 107.6,481.3 114.2,481.3" fill="#000"/>
<polygon points="123.1,468.7 119.8,474.6 126.4,474.6" fill="#000"/>
<polygon points="128.6,469.7 125.3,475.6 131.9,475.6" fill="#000"/>
<polygon points="135.8,469.7 132.5,475.6 139.1,475.6" fill="#000"/>
<polygon points="141.3,471.9 138.0,477.8 144.6,477.8" fill="#000"/>
<polygon points="148.3,474.7 145.0,480.6 151.6,480.6" fill="#000"/>
<polygon points="161.1,469.7 157.8,475.6 164.4,475.6" fill="#000"/>
<polygon points="173.8,464.7 170.5,470.6 177.1,470.6" fill="#000"/>
<polygon points="186.4,466.7 183.1,472.6 189.7,472.6" fill="#000"/>
<path d="M190.6,470.0 L194.5,471.0 L196.6,473.0 L199.2,473.0 L210.5,473.0 L216.1,475.0 L221.1,474.0 L226.8,474.0 L232.5,472.8 L237.8,473.0 L250.7,476.0 L259.6,472.2 L270.6,474.0 L281.5,475.3 L292.3,476.6" fill="none" stroke="#000" stroke-width="1.05"/>
<polygon points="194.5,467.7 191.2,473.6 197.8,473.6" fill="#000"/>
<polygon points="196.6,469.7 193.3,475.6 199.9,475.6" fill="#000"/>
<polygon points="199.2,469.7 195.9,475.6 202.5,475.6" fill="#000"/>
<polygon points="210.5,469.7 207.2,475.6 213.8,475.6" fill="#000"/>
<polygon points="216.1,471.7 212.8,477.6 219.4,477.6" fill="#000"/>
<polygon points="221.1,470.7 217.8,476.6 224.4,476.6" fill="#000"/>
<polygon points="226.8,470.7 223.5,476.6 230.1,476.6" fill="#000"/>
<polygon points="232.5,469.5 229.2,475.4 235.8,475.4" fill="#000"/>
<polygon points="237.8,469.7 234.5,475.6 241.1,475.6" fill="#000"/>
<polygon points="250.7,472.7 247.4,478.6 254.0,478.6" fill="#000"/>
<polygon points="259.6,468.9 256.3,474.8 262.9,474.8" fill="#000"/>
<polygon points="270.6,470.7 267.3,476.6 273.9,476.6" fill="#000"/>
<polygon points="281.5,472.0 278.2,477.9 284.8,477.9" fill="#000"/>
<polygon points="292.3,473.3 289.0,479.2 295.6,479.2" fill="#000"/>
<path d="M85.6,465.0 L98.1,474.4 L110.9,468.0 L123.1,470.0 L128.6,475.0 L135.8,470.0 L141.3,472.0 L148.3,480.4 L161.1,473.0 L173.8,470.0 L186.4,471.0" fill="none" stroke="#000" stroke-width="1.05"/>
<polygon points="85.6,468.3 82.3,462.4 88.9,462.4" fill="#000"/>
<polygon points="98.1,477.7 94.8,471.8 101.4,471.8" fill="#000"/>
<polygon points="110.9,471.3 107.6,465.4 114.2,465.4" fill="#000"/>
<polygon points="123.1,473.3 119.8,467.4 126.4,467.4" fill="#000"/>
<polygon points="128.6,478.3 125.3,472.4 131.9,472.4" fill="#000"/>
<polygon points="135.8,473.3 132.5,467.4 139.1,467.4" fill="#000"/>
<polygon points="141.3,475.3 138.0,469.4 144.6,469.4" fill="#000"/>
<polygon points="148.3,483.7 145.0,477.8 151.6,477.8" fill="#000"/>
<polygon points="161.1,476.3 157.8,470.4 164.4,470.4" fill="#000"/>
<polygon points="173.8,473.3 170.5,467.4 177.1,467.4" fill="#000"/>
<polygon points="186.4,474.3 183.1,468.4 189.7,468.4" fill="#000"/>
<path d="M190.6,471.0 L194.5,475.0 L196.6,476.0 L199.2,474.0 L210.5,474.5 L216.1,474.8 L221.1,476.0 L226.8,476.8 L232.5,474.0 L237.8,477.9 L250.7,474.5 L259.6,473.5 L270.6,474.5 L281.5,474.5 L292.3,475.5" fill="none" stroke="#000" stroke-width="1.05"/>
<polygon points="194.5,478.3 191.2,472.4 197.8,472.4" fill="#000"/>
<polygon points="196.6,479.3 193.3,473.4 199.9,473.4" fill="#000"/>
<polygon points="199.2,477.3 195.9,471.4 202.5,471.4" fill="#000"/>
<polygon points="210.5,477.8 207.2,471.9 213.8,471.9" fill="#000"/>
<polygon points="216.1,478.1 212.8,472.2 219.4,472.2" fill="#000"/>
<polygon points="221.1,479.3 217.8,473.4 224.4,473.4" fill="#000"/>
<polygon points="226.8,480.1 223.5,474.2 230.1,474.2" fill="#000"/>
<polygon points="232.5,477.3 229.2,471.4 235.8,471.4" fill="#000"/>
<polygon points="237.8,481.2 234.5,475.3 241.1,475.3" fill="#000"/>
<polygon points="250.7,477.8 247.4,471.9 254.0,471.9" fill="#000"/>
<polygon points="259.6,476.8 256.3,470.9 262.9,470.9" fill="#000"/>
<polygon points="270.6,477.8 267.3,471.9 273.9,471.9" fill="#000"/>
<polygon points="281.5,477.8 278.2,471.9 284.8,471.9" fill="#000"/>
<polygon points="292.3,478.8 289.0,472.9 295.6,472.9" fill="#000"/>
<path d="M307.1,431.5 L319.7,448.1 L332.3,457.0 L344.6,446.4 L349.8,483.8 L357.0,483.8 L362.5,483.8 L370.1,483.8 L382.8,483.8 L395.4,481.0 L408.0,482.0" fill="none" stroke="#000" stroke-width="1.05"/>
<path d="M304.7,429.1 H309.6 L304.7,433.9 H309.6 Z" fill="none" stroke="#000" stroke-width="1.15"/>
<path d="M317.2,445.7 H322.1 L317.2,450.6 H322.1 Z" fill="none" stroke="#000" stroke-width="1.15"/>
<path d="M329.9,454.6 H334.8 L329.9,459.4 H334.8 Z" fill="none" stroke="#000" stroke-width="1.15"/>
<path d="M342.2,443.9 H347.1 L342.2,448.8 H347.1 Z" fill="none" stroke="#000" stroke-width="1.15"/>
<path d="M347.4,481.4 H352.2 L347.4,486.2 H352.2 Z" fill="none" stroke="#000" stroke-width="1.15"/>
<path d="M354.6,481.4 H359.4 L354.6,486.2 H359.4 Z" fill="none" stroke="#000" stroke-width="1.15"/>
<path d="M360.1,481.4 H364.9 L360.1,486.2 H364.9 Z" fill="none" stroke="#000" stroke-width="1.15"/>
<path d="M367.7,481.4 H372.6 L367.7,486.2 H372.6 Z" fill="none" stroke="#000" stroke-width="1.15"/>
<path d="M380.4,481.4 H385.2 L380.4,486.2 H385.2 Z" fill="none" stroke="#000" stroke-width="1.15"/>
<path d="M392.9,478.6 H397.8 L392.9,483.4 H397.8 Z" fill="none" stroke="#000" stroke-width="1.15"/>
<path d="M405.6,479.6 H410.4 L405.6,484.4 H410.4 Z" fill="none" stroke="#000" stroke-width="1.15"/>
<path d="M307.1,462.0 L319.7,465.0 L332.3,454.2 L344.6,455.6 L349.8,483.8 L357.0,483.8 L362.5,483.8 L370.1,483.8 L382.8,483.8 L395.4,468.1 L408.0,464.6" fill="none" stroke="#000" stroke-width="1.05"/>
<polygon points="307.1,465.0 304.1,459.6 310.1,459.6" fill="none" stroke="#000" stroke-width="1.15"/>
<polygon points="319.7,468.0 316.7,462.6 322.7,462.6" fill="none" stroke="#000" stroke-width="1.15"/>
<polygon points="332.3,457.2 329.3,451.8 335.3,451.8" fill="none" stroke="#000" stroke-width="1.15"/>
<polygon points="344.6,458.6 341.6,453.2 347.6,453.2" fill="none" stroke="#000" stroke-width="1.15"/>
<polygon points="349.8,486.8 346.8,481.4 352.8,481.4" fill="none" stroke="#000" stroke-width="1.15"/>
<polygon points="357.0,486.8 354.0,481.4 360.0,481.4" fill="none" stroke="#000" stroke-width="1.15"/>
<polygon points="362.5,486.8 359.5,481.4 365.5,481.4" fill="none" stroke="#000" stroke-width="1.15"/>
<polygon points="370.1,486.8 367.1,481.4 373.1,481.4" fill="none" stroke="#000" stroke-width="1.15"/>
<polygon points="382.8,486.8 379.8,481.4 385.8,481.4" fill="none" stroke="#000" stroke-width="1.15"/>
<polygon points="395.4,471.1 392.4,465.7 398.4,465.7" fill="none" stroke="#000" stroke-width="1.15"/>
<polygon points="408.0,467.6 405.0,462.2 411.0,462.2" fill="none" stroke="#000" stroke-width="1.15"/>
<path d="M307.1,463.0 L319.7,460.3 L332.3,466.5 L344.6,469.1 L349.8,483.8 L357.0,483.8 L362.5,483.8 L370.1,483.8 L382.8,475.4 L395.4,445.9 L408.0,447.1" fill="none" stroke="#000" stroke-width="1.05"/>
<rect x="304.7" y="460.6" width="4.8" height="4.8" fill="none" stroke="#000" stroke-width="1.15"/>
<rect x="317.3" y="457.9" width="4.8" height="4.8" fill="none" stroke="#000" stroke-width="1.15"/>
<rect x="329.9" y="464.1" width="4.8" height="4.8" fill="none" stroke="#000" stroke-width="1.15"/>
<rect x="342.2" y="466.7" width="4.8" height="4.8" fill="none" stroke="#000" stroke-width="1.15"/>
<rect x="347.4" y="481.4" width="4.8" height="4.8" fill="none" stroke="#000" stroke-width="1.15"/>
<rect x="354.6" y="481.4" width="4.8" height="4.8" fill="none" stroke="#000" stroke-width="1.15"/>
<rect x="360.1" y="481.4" width="4.8" height="4.8" fill="none" stroke="#000" stroke-width="1.15"/>
<rect x="367.7" y="481.4" width="4.8" height="4.8" fill="none" stroke="#000" stroke-width="1.15"/>
<rect x="380.4" y="473.0" width="4.8" height="4.8" fill="none" stroke="#000" stroke-width="1.15"/>
<rect x="393.0" y="443.5" width="4.8" height="4.8" fill="none" stroke="#000" stroke-width="1.15"/>
<rect x="405.6" y="444.7" width="4.8" height="4.8" fill="none" stroke="#000" stroke-width="1.15"/>
<path d="M307.1,467.3 L319.7,475.2 L332.3,462.0 L344.6,472.6 L349.8,483.8 L357.0,483.8 L362.5,483.8 L370.1,483.8 L382.8,483.8 L395.4,473.0 L408.0,462.5" fill="none" stroke="#000" stroke-width="1.05"/>
<circle cx="307.1" cy="467.3" r="2.60" fill="none" stroke="#000" stroke-width="1.15"/>
<circle cx="319.7" cy="475.2" r="2.60" fill="none" stroke="#000" stroke-width="1.15"/>
<circle cx="332.3" cy="462.0" r="2.60" fill="none" stroke="#000" stroke-width="1.15"/>
<circle cx="344.6" cy="472.6" r="2.60" fill="none" stroke="#000" stroke-width="1.15"/>
<circle cx="349.8" cy="483.8" r="2.60" fill="none" stroke="#000" stroke-width="1.15"/>
<circle cx="357.0" cy="483.8" r="2.60" fill="none" stroke="#000" stroke-width="1.15"/>
<circle cx="362.5" cy="483.8" r="2.60" fill="none" stroke="#000" stroke-width="1.15"/>
<circle cx="370.1" cy="483.8" r="2.60" fill="none" stroke="#000" stroke-width="1.15"/>
<circle cx="382.8" cy="483.8" r="2.60" fill="none" stroke="#000" stroke-width="1.15"/>
<circle cx="395.4" cy="473.0" r="2.60" fill="none" stroke="#000" stroke-width="1.15"/>
<circle cx="408.0" cy="462.5" r="2.60" fill="none" stroke="#000" stroke-width="1.15"/>
<path d="M307.1,469.0 L319.7,470.0 L332.3,471.7 L344.6,470.0 L349.8,483.8 L357.0,483.8 L362.5,483.8 L370.1,483.8 L382.8,483.8 L395.4,481.2 L408.0,467.2" fill="none" stroke="#000" stroke-width="1.05"/>
<polygon points="307.1,465.9 310.2,469.0 307.1,472.1 304.0,469.0" fill="none" stroke="#000" stroke-width="1.15"/>
<polygon points="319.7,466.9 322.8,470.0 319.7,473.1 316.6,470.0" fill="none" stroke="#000" stroke-width="1.15"/>
<polygon points="332.3,468.6 335.4,471.7 332.3,474.8 329.2,471.7" fill="none" stroke="#000" stroke-width="1.15"/>
<polygon points="344.6,466.9 347.7,470.0 344.6,473.1 341.5,470.0" fill="none" stroke="#000" stroke-width="1.15"/>
<polygon points="349.8,480.7 352.9,483.8 349.8,486.9 346.7,483.8" fill="none" stroke="#000" stroke-width="1.15"/>
<polygon points="357.0,480.7 360.1,483.8 357.0,486.9 353.9,483.8" fill="none" stroke="#000" stroke-width="1.15"/>
<polygon points="362.5,480.7 365.6,483.8 362.5,486.9 359.4,483.8" fill="none" stroke="#000" stroke-width="1.15"/>
<polygon points="370.1,480.7 373.2,483.8 370.1,486.9 367.0,483.8" fill="none" stroke="#000" stroke-width="1.15"/>
<polygon points="382.8,480.7 385.9,483.8 382.8,486.9 379.7,483.8" fill="none" stroke="#000" stroke-width="1.15"/>
<polygon points="395.4,478.1 398.5,481.2 395.4,484.3 392.3,481.2" fill="none" stroke="#000" stroke-width="1.15"/>
<polygon points="408.0,464.1 411.1,467.2 408.0,470.3 404.9,467.2" fill="none" stroke="#000" stroke-width="1.15"/>
<path d="M307.1,468.0 L319.7,463.8 L332.3,459.5 L344.6,476.1 L349.8,483.8 L357.0,483.8 L362.5,477.2 L370.1,473.3 L382.8,460.2 L395.4,429.7 L408.0,464.0" fill="none" stroke="#000" stroke-width="1.05"/>
<polygon points="307.1,465.0 304.1,470.4 310.1,470.4" fill="none" stroke="#000" stroke-width="1.15"/>
<polygon points="319.7,460.8 316.7,466.2 322.7,466.2" fill="none" stroke="#000" stroke-width="1.15"/>
<polygon points="332.3,456.5 329.3,461.9 335.3,461.9" fill="none" stroke="#000" stroke-width="1.15"/>
<polygon points="344.6,473.1 341.6,478.5 347.6,478.5" fill="none" stroke="#000" stroke-width="1.15"/>
<polygon points="349.8,480.8 346.8,486.2 352.8,486.2" fill="none" stroke="#000" stroke-width="1.15"/>
<polygon points="357.0,480.8 354.0,486.2 360.0,486.2" fill="none" stroke="#000" stroke-width="1.15"/>
<polygon points="362.5,474.2 359.5,479.6 365.5,479.6" fill="none" stroke="#000" stroke-width="1.15"/>
<polygon points="370.1,470.3 367.1,475.7 373.1,475.7" fill="none" stroke="#000" stroke-width="1.15"/>
<polygon points="382.8,457.2 379.8,462.6 385.8,462.6" fill="none" stroke="#000" stroke-width="1.15"/>
<polygon points="395.4,426.7 392.4,432.1 398.4,432.1" fill="none" stroke="#000" stroke-width="1.15"/>
<polygon points="408.0,461.0 405.0,466.4 411.0,466.4" fill="none" stroke="#000" stroke-width="1.15"/>
<rect x="348.4" y="481.0" width="5.4" height="5.4" rx="1.2" fill="#000"/>
<rect x="355.3" y="481.0" width="5.4" height="5.4" rx="1.2" fill="#000"/>
<rect x="360.7" y="481.0" width="5.4" height="5.4" rx="1.2" fill="#000"/>
<rect x="367.4" y="481.0" width="5.4" height="5.4" rx="1.2" fill="#000"/>
<rect x="379.7" y="481.0" width="5.4" height="5.4" rx="1.2" fill="#000"/>
<path d="M412.6,455.0 L418.2,368.4 L420.5,386.3 L431.7,350.6 L437.6,447.0 L443.0,376.5 L448.5,452.0 L453.2,419.1 L459.0,439.0 L471.8,435.1 L480.9,424.6 L491.6,451.8 L502.7,435.7 L514.0,443.4" fill="none" stroke="#000" stroke-width="1.05"/>
<path d="M415.8,365.9 H420.6 L415.8,370.8 H420.6 Z" fill="none" stroke="#000" stroke-width="1.15"/>
<path d="M418.1,383.9 H422.9 L418.1,388.8 H422.9 Z" fill="none" stroke="#000" stroke-width="1.15"/>
<path d="M429.2,348.2 H434.1 L429.2,353.1 H434.1 Z" fill="none" stroke="#000" stroke-width="1.15"/>
<path d="M435.2,444.6 H440.1 L435.2,449.4 H440.1 Z" fill="none" stroke="#000" stroke-width="1.15"/>
<path d="M440.6,374.1 H445.4 L440.6,378.9 H445.4 Z" fill="none" stroke="#000" stroke-width="1.15"/>
<path d="M446.1,449.6 H450.9 L446.1,454.4 H450.9 Z" fill="none" stroke="#000" stroke-width="1.15"/>
<path d="M450.8,416.7 H455.6 L450.8,421.6 H455.6 Z" fill="none" stroke="#000" stroke-width="1.15"/>
<path d="M456.6,436.6 H461.4 L456.6,441.4 H461.4 Z" fill="none" stroke="#000" stroke-width="1.15"/>
<path d="M469.4,432.7 H474.2 L469.4,437.6 H474.2 Z" fill="none" stroke="#000" stroke-width="1.15"/>
<path d="M478.4,422.2 H483.3 L478.4,427.1 H483.3 Z" fill="none" stroke="#000" stroke-width="1.15"/>
<path d="M489.2,449.4 H494.1 L489.2,454.2 H494.1 Z" fill="none" stroke="#000" stroke-width="1.15"/>
<path d="M500.2,433.2 H505.1 L500.2,438.1 H505.1 Z" fill="none" stroke="#000" stroke-width="1.15"/>
<path d="M511.6,440.9 H516.5 L511.6,445.8 H516.5 Z" fill="none" stroke="#000" stroke-width="1.15"/>
<path d="M412.6,462.0 L418.2,415.3 L421.3,423.2 L431.7,389.4 L437.6,436.4 L443.0,425.0 L447.3,420.7 L453.2,440.0 L459.0,455.0 L471.8,468.0 L480.9,458.0 L491.6,467.0 L502.7,469.0 L514.0,466.0" fill="none" stroke="#000" stroke-width="1.05"/>
<polygon points="418.2,418.3 415.2,412.9 421.2,412.9" fill="none" stroke="#000" stroke-width="1.15"/>
<polygon points="421.3,426.2 418.3,420.8 424.3,420.8" fill="none" stroke="#000" stroke-width="1.15"/>
<polygon points="431.7,392.4 428.7,387.0 434.7,387.0" fill="none" stroke="#000" stroke-width="1.15"/>
<polygon points="437.6,439.4 434.6,434.0 440.6,434.0" fill="none" stroke="#000" stroke-width="1.15"/>
<polygon points="443.0,428.0 440.0,422.6 446.0,422.6" fill="none" stroke="#000" stroke-width="1.15"/>
<polygon points="447.3,423.7 444.3,418.3 450.3,418.3" fill="none" stroke="#000" stroke-width="1.15"/>
<polygon points="453.2,443.0 450.2,437.6 456.2,437.6" fill="none" stroke="#000" stroke-width="1.15"/>
<polygon points="459.0,458.0 456.0,452.6 462.0,452.6" fill="none" stroke="#000" stroke-width="1.15"/>
<polygon points="471.8,471.0 468.8,465.6 474.8,465.6" fill="none" stroke="#000" stroke-width="1.15"/>
<polygon points="480.9,461.0 477.9,455.6 483.9,455.6" fill="none" stroke="#000" stroke-width="1.15"/>
<polygon points="491.6,470.0 488.6,464.6 494.6,464.6" fill="none" stroke="#000" stroke-width="1.15"/>
<polygon points="502.7,472.0 499.7,466.6 505.7,466.6" fill="none" stroke="#000" stroke-width="1.15"/>
<polygon points="514.0,469.0 511.0,463.6 517.0,463.6" fill="none" stroke="#000" stroke-width="1.15"/>
<path d="M412.6,462.0 L418.7,452.0 L421.3,458.0 L431.7,415.8 L437.6,447.0 L443.0,420.1 L448.5,455.0 L453.2,450.0 L459.0,460.0 L471.8,465.3 L480.9,459.6 L491.6,459.3 L502.7,447.6 L514.0,462.0" fill="none" stroke="#000" stroke-width="1.05"/>
<circle cx="418.7" cy="452.0" r="2.60" fill="none" stroke="#000" stroke-width="1.15"/>
<circle cx="421.3" cy="458.0" r="2.60" fill="none" stroke="#000" stroke-width="1.15"/>
<circle cx="431.7" cy="415.8" r="2.60" fill="none" stroke="#000" stroke-width="1.15"/>
<circle cx="437.6" cy="447.0" r="2.60" fill="none" stroke="#000" stroke-width="1.15"/>
<circle cx="443.0" cy="420.1" r="2.60" fill="none" stroke="#000" stroke-width="1.15"/>
<circle cx="448.5" cy="455.0" r="2.60" fill="none" stroke="#000" stroke-width="1.15"/>
<circle cx="453.2" cy="450.0" r="2.60" fill="none" stroke="#000" stroke-width="1.15"/>
<circle cx="459.0" cy="460.0" r="2.60" fill="none" stroke="#000" stroke-width="1.15"/>
<circle cx="471.8" cy="465.3" r="2.60" fill="none" stroke="#000" stroke-width="1.15"/>
<circle cx="480.9" cy="459.6" r="2.60" fill="none" stroke="#000" stroke-width="1.15"/>
<circle cx="491.6" cy="459.3" r="2.60" fill="none" stroke="#000" stroke-width="1.15"/>
<circle cx="502.7" cy="447.6" r="2.60" fill="none" stroke="#000" stroke-width="1.15"/>
<circle cx="514.0" cy="462.0" r="2.60" fill="none" stroke="#000" stroke-width="1.15"/>
<path d="M412.6,447.0 L415.0,435.4 L420.9,445.4 L431.5,450.4 L437.7,458.0 L443.0,458.0 L448.1,453.1 L454.1,449.1 L459.2,459.3 L471.8,464.8 L481.3,454.2 L491.6,462.0 L502.8,464.6 L514.0,463.4" fill="none" stroke="#000" stroke-width="1.05"/>
<rect x="412.6" y="433.0" width="4.8" height="4.8" fill="none" stroke="#000" stroke-width="1.15"/>
<rect x="418.5" y="443.0" width="4.8" height="4.8" fill="none" stroke="#000" stroke-width="1.15"/>
<rect x="429.1" y="448.0" width="4.8" height="4.8" fill="none" stroke="#000" stroke-width="1.15"/>
<rect x="435.3" y="455.6" width="4.8" height="4.8" fill="none" stroke="#000" stroke-width="1.15"/>
<rect x="440.6" y="455.6" width="4.8" height="4.8" fill="none" stroke="#000" stroke-width="1.15"/>
<rect x="445.7" y="450.7" width="4.8" height="4.8" fill="none" stroke="#000" stroke-width="1.15"/>
<rect x="451.7" y="446.7" width="4.8" height="4.8" fill="none" stroke="#000" stroke-width="1.15"/>
<rect x="456.8" y="456.9" width="4.8" height="4.8" fill="none" stroke="#000" stroke-width="1.15"/>
<rect x="469.4" y="462.4" width="4.8" height="4.8" fill="none" stroke="#000" stroke-width="1.15"/>
<rect x="478.9" y="451.8" width="4.8" height="4.8" fill="none" stroke="#000" stroke-width="1.15"/>
<rect x="489.2" y="459.6" width="4.8" height="4.8" fill="none" stroke="#000" stroke-width="1.15"/>
<rect x="500.4" y="462.2" width="4.8" height="4.8" fill="none" stroke="#000" stroke-width="1.15"/>
<rect x="511.6" y="461.0" width="4.8" height="4.8" fill="none" stroke="#000" stroke-width="1.15"/>
<path d="M412.6,466.0 L418.2,462.0 L421.3,466.0 L431.7,467.0 L437.6,467.0 L443.0,467.5 L448.0,470.0 L453.2,472.0 L459.0,473.0 L471.8,475.2 L480.9,475.7 L491.6,477.0 L502.7,477.4 L514.0,477.9" fill="none" stroke="#000" stroke-width="1.05"/>
<polygon points="418.2,458.9 421.3,462.0 418.2,465.1 415.1,462.0" fill="none" stroke="#000" stroke-width="1.15"/>
<polygon points="421.3,462.9 424.4,466.0 421.3,469.1 418.2,466.0" fill="none" stroke="#000" stroke-width="1.15"/>
<polygon points="431.7,463.9 434.8,467.0 431.7,470.1 428.6,467.0" fill="none" stroke="#000" stroke-width="1.15"/>
<polygon points="437.6,463.9 440.7,467.0 437.6,470.1 434.5,467.0" fill="none" stroke="#000" stroke-width="1.15"/>
<polygon points="443.0,464.4 446.1,467.5 443.0,470.6 439.9,467.5" fill="none" stroke="#000" stroke-width="1.15"/>
<polygon points="448.0,466.9 451.1,470.0 448.0,473.1 444.9,470.0" fill="none" stroke="#000" stroke-width="1.15"/>
<polygon points="453.2,468.9 456.3,472.0 453.2,475.1 450.1,472.0" fill="none" stroke="#000" stroke-width="1.15"/>
<polygon points="459.0,469.9 462.1,473.0 459.0,476.1 455.9,473.0" fill="none" stroke="#000" stroke-width="1.15"/>
<polygon points="471.8,472.1 474.9,475.2 471.8,478.3 468.7,475.2" fill="none" stroke="#000" stroke-width="1.15"/>
<polygon points="480.9,472.6 484.0,475.7 480.9,478.8 477.8,475.7" fill="none" stroke="#000" stroke-width="1.15"/>
<polygon points="491.6,473.9 494.7,477.0 491.6,480.1 488.5,477.0" fill="none" stroke="#000" stroke-width="1.15"/>
<polygon points="502.7,474.3 505.8,477.4 502.7,480.5 499.6,477.4" fill="none" stroke="#000" stroke-width="1.15"/>
<polygon points="514.0,474.8 517.1,477.9 514.0,481.0 510.9,477.9" fill="none" stroke="#000" stroke-width="1.15"/>
<path d="M412.6,462.0 L418.2,458.0 L421.3,462.0 L431.7,468.0 L437.6,468.0 L443.0,472.0 L448.1,473.0 L453.2,468.0 L459.0,468.0 L471.8,471.6 L481.3,471.2 L491.7,471.9 L502.8,470.8 L514.0,471.2" fill="none" stroke="#000" stroke-width="1.05"/>
<polygon points="418.2,455.0 415.2,460.4 421.2,460.4" fill="none" stroke="#000" stroke-width="1.15"/>
<polygon points="421.3,459.0 418.3,464.4 424.3,464.4" fill="none" stroke="#000" stroke-width="1.15"/>
<polygon points="431.7,465.0 428.7,470.4 434.7,470.4" fill="none" stroke="#000" stroke-width="1.15"/>
<polygon points="437.6,465.0 434.6,470.4 440.6,470.4" fill="none" stroke="#000" stroke-width="1.15"/>
<polygon points="443.0,469.0 440.0,474.4 446.0,474.4" fill="none" stroke="#000" stroke-width="1.15"/>
<polygon points="448.1,470.0 445.1,475.4 451.1,475.4" fill="none" stroke="#000" stroke-width="1.15"/>
<polygon points="453.2,465.0 450.2,470.4 456.2,470.4" fill="none" stroke="#000" stroke-width="1.15"/>
<polygon points="459.0,465.0 456.0,470.4 462.0,470.4" fill="none" stroke="#000" stroke-width="1.15"/>
<polygon points="471.8,468.6 468.8,474.0 474.8,474.0" fill="none" stroke="#000" stroke-width="1.15"/>
<polygon points="481.3,468.2 478.3,473.6 484.3,473.6" fill="none" stroke="#000" stroke-width="1.15"/>
<polygon points="491.7,468.9 488.7,474.3 494.7,474.3" fill="none" stroke="#000" stroke-width="1.15"/>
<polygon points="502.8,467.8 499.8,473.2 505.8,473.2" fill="none" stroke="#000" stroke-width="1.15"/>
<polygon points="514.0,468.2 511.0,473.6 517.0,473.6" fill="none" stroke="#000" stroke-width="1.15"/>
<line x1="237.0" y1="378.6" x2="244.8" y2="378.6" stroke="#000" stroke-width="1.1"/>
<circle cx="240.9" cy="378.6" r="2.75" fill="#000"/>
<text x="249.30" y="381.80" font-family="Liberation Sans, sans-serif" font-weight="bold" font-size="9.00" textLength="15.2" lengthAdjust="spacingAndGlyphs">235</text>
<line x1="267.0" y1="378.6" x2="274.8" y2="378.6" stroke="#000" stroke-width="1.1"/>
<polygon points="270.9,381.7 267.8,376.1 274.0,376.1" fill="#000"/>
<text x="279.30" y="381.80" font-family="Liberation Sans, sans-serif" font-weight="bold" font-size="9.00" textLength="15.2" lengthAdjust="spacingAndGlyphs">362</text>
<line x1="237.0" y1="386.3" x2="244.8" y2="386.3" stroke="#000" stroke-width="1.1"/>
<rect x="238.5" y="383.9" width="4.8" height="4.8" fill="#000"/>
<text x="249.30" y="389.50" font-family="Liberation Sans, sans-serif" font-weight="bold" font-size="9.00" textLength="15.2" lengthAdjust="spacingAndGlyphs">236</text>
<line x1="267.0" y1="386.3" x2="274.8" y2="386.3" stroke="#000" stroke-width="1.1"/>
<polygon points="270.9,383.2 274.0,386.3 270.9,389.4 267.8,386.3" fill="#000"/>
<text x="279.30" y="389.50" font-family="Liberation Sans, sans-serif" font-weight="bold" font-size="9.00" textLength="15.2" lengthAdjust="spacingAndGlyphs">363</text>
<line x1="237.0" y1="394.0" x2="244.8" y2="394.0" stroke="#000" stroke-width="1.1"/>
<polygon points="240.9,390.9 237.8,396.5 244.0,396.5" fill="#000"/>
<text x="249.30" y="397.20" font-family="Liberation Sans, sans-serif" font-weight="bold" font-size="9.00" textLength="15.2" lengthAdjust="spacingAndGlyphs">242</text>
<line x1="267.0" y1="394.0" x2="274.8" y2="394.0" stroke="#000" stroke-width="1.1"/>
<polygon points="270.9,390.7 271.7,392.8 274.1,393.0 272.3,394.4 272.9,396.7 270.9,395.4 268.9,396.7 269.5,394.4 267.7,393.0 270.1,392.8" fill="#000"/>
<text x="279.30" y="397.20" font-family="Liberation Sans, sans-serif" font-weight="bold" font-size="9.00" textLength="15.2" lengthAdjust="spacingAndGlyphs">369</text>
<line x1="457.9" y1="378.6" x2="465.7" y2="378.6" stroke="#000" stroke-width="1.1"/>
<rect x="459.5" y="376.3" width="4.6" height="4.6" fill="none" stroke="#000" stroke-width="1.30"/>
<text x="470.20" y="381.80" font-family="Liberation Sans, sans-serif" font-weight="bold" font-size="9.00" textLength="15.2" lengthAdjust="spacingAndGlyphs">361</text>
<line x1="489.2" y1="378.6" x2="497.0" y2="378.6" stroke="#000" stroke-width="1.1"/>
<polygon points="493.1,375.7 496.0,378.6 493.1,381.5 490.2,378.6" fill="none" stroke="#000" stroke-width="1.30"/>
<text x="501.50" y="381.80" font-family="Liberation Sans, sans-serif" font-weight="bold" font-size="9.00" textLength="15.2" lengthAdjust="spacingAndGlyphs">366</text>
<line x1="457.9" y1="386.3" x2="465.7" y2="386.3" stroke="#000" stroke-width="1.1"/>
<polygon points="461.8,383.4 458.9,388.6 464.7,388.6" fill="none" stroke="#000" stroke-width="1.30"/>
<text x="470.20" y="389.50" font-family="Liberation Sans, sans-serif" font-weight="bold" font-size="9.00" textLength="15.2" lengthAdjust="spacingAndGlyphs">364</text>
<line x1="489.2" y1="386.3" x2="497.0" y2="386.3" stroke="#000" stroke-width="1.1"/>
<circle cx="493.1" cy="386.3" r="2.47" fill="none" stroke="#000" stroke-width="1.30"/>
<text x="501.50" y="389.50" font-family="Liberation Sans, sans-serif" font-weight="bold" font-size="9.00" textLength="15.2" lengthAdjust="spacingAndGlyphs">367</text>
<line x1="457.9" y1="394.0" x2="465.7" y2="394.0" stroke="#000" stroke-width="1.1"/>
<polygon points="461.8,396.9 458.9,391.7 464.7,391.7" fill="none" stroke="#000" stroke-width="1.30"/>
<text x="470.20" y="397.20" font-family="Liberation Sans, sans-serif" font-weight="bold" font-size="9.00" textLength="15.2" lengthAdjust="spacingAndGlyphs">365</text>
<line x1="489.2" y1="394.0" x2="497.0" y2="394.0" stroke="#000" stroke-width="1.1"/>
<path d="M490.8,391.7 H495.4 L490.8,396.3 H495.4 Z" fill="none" stroke="#000" stroke-width="1.30"/>
<text x="501.50" y="397.20" font-family="Liberation Sans, sans-serif" font-weight="bold" font-size="9.00" textLength="15.2" lengthAdjust="spacingAndGlyphs">368</text>
</svg>
</body></html>
